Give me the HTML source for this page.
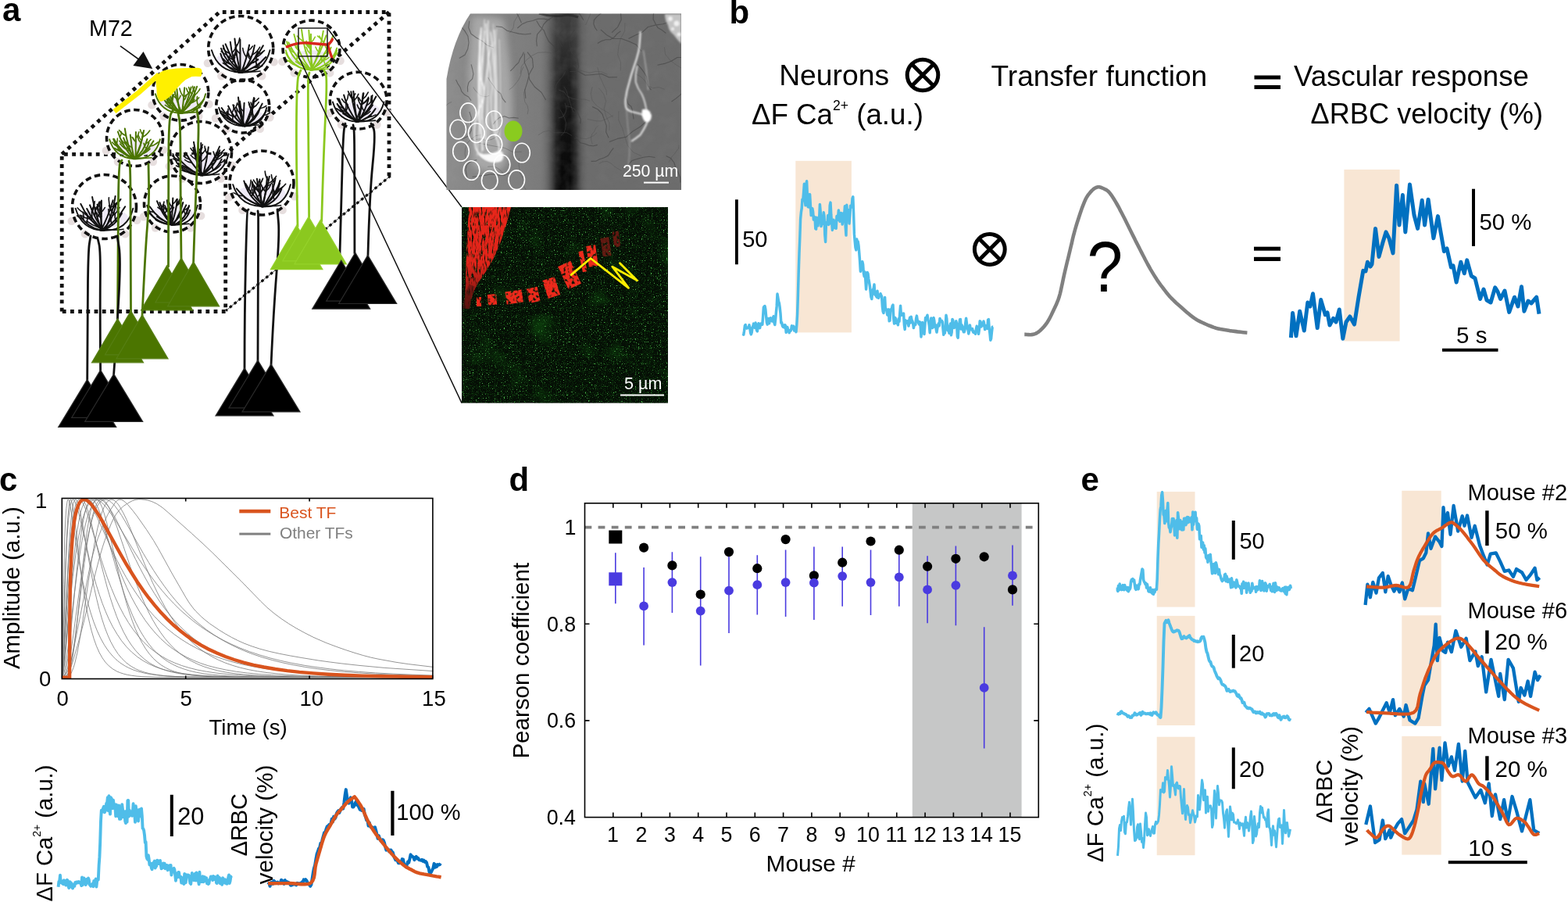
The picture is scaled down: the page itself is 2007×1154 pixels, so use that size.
<!DOCTYPE html>
<html><head><meta charset="utf-8"><title>Figure</title><style>
html,body{margin:0;padding:0;background:#fff;overflow:hidden}
svg{display:block}
text{font-family:"Liberation Sans",Arial,Helvetica,sans-serif;fill:#000}
.pl{font-weight:bold;font-size:40px}
.t38{font-size:38px}.t29{font-size:29px}.t28{font-size:28px}.t27{font-size:27px}.t26{font-size:26px}.t25{font-size:25px}
.t21{font-size:21px}.t19{font-size:19px}.t88{font-size:91px}
</style></head>
<body><svg width="2007" height="1154" viewBox="0 0 2007 1154">
<rect width="2007" height="1154" fill="#fff"/>
<text x="2.9" y="27" font-size="42.00" font-weight="bold">a</text>
<path d="M79.2 398.5 V197.3 H288.7 V398.5 Z" fill="none" stroke="#111" stroke-width="4.8" stroke-dasharray="4.8 5.4"/>
<path d="M79.2 197.3 L281 15.5 H498 V225" fill="none" stroke="#111" stroke-width="4.8" stroke-dasharray="4.8 5.4"/>
<path d="M498 15.5 L288.7 197.3" fill="none" stroke="#111" stroke-width="4.8" stroke-dasharray="4.8 5.4"/>
<path d="M499.8 225 L289.2 397.4" fill="none" stroke="#111" stroke-width="3.2" stroke-dasharray="3.5 4"/>
<path d="M499.8 225 L289.2 397.4" fill="none" stroke="#111" stroke-width="0.8"/>
<g fill="#e6dede"><circle cx="265.9" cy="80.7" r="5.2"/><circle cx="350.5" cy="79.4" r="5.2"/><circle cx="283.3" cy="97.3" r="5.2"/><circle cx="335.2" cy="97.3" r="5.2"/><circle cx="361.4" cy="78.9" r="5.2"/><circle cx="435.6" cy="77.8" r="5.2"/><circle cx="376.7" cy="93.4" r="5.2"/><circle cx="422.2" cy="93.4" r="5.2"/><circle cx="194.5" cy="134.4" r="5.2"/><circle cx="267.5" cy="133.3" r="5.2"/><circle cx="209.5" cy="148.7" r="5.2"/><circle cx="254.3" cy="148.7" r="5.2"/><circle cx="276" cy="151.3" r="5.2"/><circle cx="345.4" cy="150.3" r="5.2"/><circle cx="290.3" cy="164.9" r="5.2"/><circle cx="332.8" cy="164.9" r="5.2"/><circle cx="135.8" cy="192.7" r="5.2"/><circle cx="209.2" cy="191.6" r="5.2"/><circle cx="150.9" cy="207.1" r="5.2"/><circle cx="195.9" cy="207.1" r="5.2"/><circle cx="216.7" cy="212.8" r="5.2"/><circle cx="297.3" cy="211.6" r="5.2"/><circle cx="233.3" cy="228.6" r="5.2"/><circle cx="282.7" cy="228.6" r="5.2"/><circle cx="421.6" cy="145" r="5.2"/><circle cx="495.8" cy="143.9" r="5.2"/><circle cx="436.9" cy="159.5" r="5.2"/><circle cx="482.4" cy="159.5" r="5.2"/><circle cx="293.2" cy="252.4" r="5.2"/><circle cx="376.8" cy="251.2" r="5.2"/><circle cx="310.4" cy="268.9" r="5.2"/><circle cx="361.6" cy="268.9" r="5.2"/><circle cx="91.7" cy="282.9" r="5.2"/><circle cx="175.3" cy="281.7" r="5.2"/><circle cx="108.9" cy="299.4" r="5.2"/><circle cx="160.2" cy="299.4" r="5.2"/><circle cx="183.8" cy="277.2" r="5.2"/><circle cx="257.2" cy="276.1" r="5.2"/><circle cx="198.9" cy="291.6" r="5.2"/><circle cx="243.9" cy="291.6" r="5.2"/></g>
<g fill="#eee9f6"><ellipse cx="308.2" cy="76.5" rx="31.1" ry="12.4"/><ellipse cx="398.5" cy="75.2" rx="27.3" ry="10.9"/><ellipse cx="231" cy="130.8" rx="26.8" ry="10.7"/><ellipse cx="310.7" cy="147.9" rx="25.5" ry="10.2"/><ellipse cx="172.5" cy="189.1" rx="27" ry="10.8"/><ellipse cx="257" cy="208.8" rx="29.6" ry="11.8"/><ellipse cx="458.7" cy="141.3" rx="27.3" ry="10.9"/><ellipse cx="335" cy="248.3" rx="30.8" ry="12.3"/><ellipse cx="133.5" cy="278.9" rx="30.8" ry="12.3"/><ellipse cx="220.5" cy="273.6" rx="27" ry="10.8"/></g>
<g fill="none" stroke="#111" stroke-linecap="round"><path d="M307.9 92.7 Q279.1 91.9 270.8 64.1" stroke-width="1.9"/><path d="M307.9 92.7 Q338.1 94.4 345.6 64.1" stroke-width="1.9"/><path d="M285.4 80.7 Q304.1 95.2 333.1 91" stroke-width="1.6"/><path d="M306.1 92.7 Q287.3 87.5 282.3 68.6" stroke-width="2"/><path d="M289 82.1 Q293.5 76.8 294.6 69.2" stroke-width="1.6"/><path d="M307.6 92.7 Q289.8 81.7 283 62" stroke-width="2"/><path d="M294.8 82.2 Q289.4 80.2 285.8 75.2" stroke-width="1.6"/><path d="M310.2 92.7 Q291.6 79.9 285.5 58.1" stroke-width="2"/><path d="M290.1 69.9 Q286.2 68.9 283.2 65.7" stroke-width="1.6"/><path d="M296.8 80.4 Q299.7 77.5 300.6 73.2" stroke-width="1.6"/><path d="M308.8 92.7 Q296.3 75.9 288.6 56.4" stroke-width="2"/><path d="M298.2 76.5 Q294.6 75.3 291.9 72.1" stroke-width="1.6"/><path d="M294 68.6 Q289 66.7 285.6 62.1" stroke-width="1.6"/><path d="M305.8 92.7 Q296.9 74.2 294.8 53.7" stroke-width="2"/><path d="M298.3 72.6 Q302 67.6 302.4 61" stroke-width="1.6"/><path d="M298.7 73.9 Q301.5 71.2 302.5 67" stroke-width="1.6"/><path d="M297 67.5 Q301.7 63.3 303.4 56.8" stroke-width="1.6"/><path d="M307.4 92.7 Q302.3 71.4 300.4 49.5" stroke-width="2"/><path d="M301.6 60.6 Q305.8 55.6 306.7 48.6" stroke-width="1.6"/><path d="M307.6 92.7 Q307.4 71.7 307.4 50.7" stroke-width="2"/><path d="M307.4 68.8 Q303.3 65.9 301.2 60.9" stroke-width="1.6"/><path d="M308.8 92.7 Q315.8 75.7 319.1 57.5" stroke-width="2"/><path d="M315.5 73.3 Q311.5 68.4 310.7 61.5" stroke-width="1.6"/><path d="M317.6 64.9 Q321.1 63 323.3 59.2" stroke-width="1.6"/><path d="M310.1 92.7 Q322.8 77.5 325.9 57.9" stroke-width="2"/><path d="M320.5 76.2 Q317.9 73.5 317.1 69.5" stroke-width="1.6"/><path d="M322.9 70.1 Q329 66.8 332.6 60.3" stroke-width="1.6"/><path d="M321.3 74.3 Q318.6 71.6 317.7 67.6" stroke-width="1.6"/><path d="M306.2 92.7 Q326.1 79.6 336.9 58.3" stroke-width="2"/><path d="M330.5 69 Q335 68.1 338.5 64.6" stroke-width="1.6"/><path d="M327.6 73 Q332.9 71.1 336.5 66.2" stroke-width="1.6"/><path d="M307.9 92.7 Q323.5 83.2 330.1 66.1" stroke-width="2"/><path d="M321.9 80.5 Q326.6 79.9 330.5 76.5" stroke-width="1.6"/><path d="M321.4 81.1 Q326.4 79.8 330.2 75.5" stroke-width="1.6"/><path d="M308.9 92.7 Q327.8 88 340.3 73" stroke-width="2"/><path d="M328.5 83.9 Q326.8 78.5 328.5 72.5" stroke-width="1.6"/><path d="M325 86.2 Q328.8 85.8 332.2 83.2" stroke-width="1.6"/><path d="M324.6 86.4 Q330.2 87 335.8 84.3" stroke-width="1.6"/></g>
<g fill="none" stroke="#8bc81f" stroke-linecap="round"><path d="M398.3 89.4 Q373 88.7 365.7 64.3" stroke-width="1.9"/><path d="M398.3 89.4 Q424.7 90.9 431.3 64.3" stroke-width="1.9"/><path d="M378.5 78.9 Q394.9 91.6 420.3 88" stroke-width="1.6"/><path d="M397.9 89.4 Q374.8 87.7 366.2 68" stroke-width="2"/><path d="M379.4 83.8 Q374.7 83 370.9 79.5" stroke-width="1.6"/><path d="M373.1 78.6 Q368.2 78.8 363.8 76.1" stroke-width="1.6"/><path d="M373.6 79.2 Q368.7 78.6 364.5 75.2" stroke-width="1.6"/><path d="M397.4 89.4 Q372.9 78.2 367.1 53.2" stroke-width="2"/><path d="M379.3 76.7 Q381.7 73.5 381.9 69.2" stroke-width="1.6"/><path d="M379.2 76.6 Q381.6 72.5 381.5 67.4" stroke-width="1.6"/><path d="M398.3 89.4 Q379.1 75.7 369.3 54.4" stroke-width="2"/><path d="M376.6 67.4 Q373.1 66.1 370.7 62.8" stroke-width="1.6"/><path d="M374 63.3 Q368 61.2 363.7 55.8" stroke-width="1.6"/><path d="M397.6 89.4 Q381.6 69.2 376.3 43.9" stroke-width="2"/><path d="M381.5 61.4 Q378.3 59.9 376.3 56.6" stroke-width="1.6"/><path d="M382.9 64.9 Q380 63.4 378.2 60.2" stroke-width="1.6"/><path d="M400.3 89.4 Q388.7 64.9 386 37.9" stroke-width="2"/><path d="M388.2 53 Q383 49.7 380.2 46.1" stroke-width="1.6"/><path d="M400.2 89.4 Q396.5 64.2 395.3 38.7" stroke-width="2"/><path d="M396.6 59.1 Q393.5 56.6 392.1 52.4" stroke-width="1.6"/><path d="M396.8 60.4 Q392.9 58.1 390.7 53.8" stroke-width="1.6"/><path d="M397.6 68.9 Q393.7 65.7 392 60.4" stroke-width="1.6"/><path d="M398.3 89.4 Q398.1 66.6 398 43.7" stroke-width="2"/><path d="M398 54.1 Q401.5 51.6 403.3 47.3" stroke-width="1.6"/><path d="M398.1 63.3 Q392.9 59.7 390.3 53.5" stroke-width="1.6"/><path d="M398.7 89.4 Q410.3 65.8 413.8 39.7" stroke-width="2"/><path d="M407.9 66.3 Q405.1 64 403.9 60.1" stroke-width="1.6"/><path d="M412 50.5 Q408.1 47.3 406.5 46.1" stroke-width="1.6"/><path d="M397.6 89.4 Q410.1 68.6 417.5 45.4" stroke-width="2"/><path d="M414.4 54.5 Q410.1 50.1 408.8 46.1" stroke-width="1.6"/><path d="M399.7 89.4 Q417.6 69.8 426.5 45.4" stroke-width="2"/><path d="M418.4 63.3 Q416.1 60 415.9 55.6" stroke-width="1.6"/><path d="M414.9 69.3 Q418 68.1 420.1 65.2" stroke-width="1.6"/><path d="M396.5 89.4 Q416.1 80.7 423.7 60.7" stroke-width="2"/><path d="M413.7 77.2 Q417.8 76.5 421.1 73.5" stroke-width="1.6"/><path d="M412.1 78.8 Q410.4 75.5 410.7 71.4" stroke-width="1.6"/><path d="M413.1 77.9 Q411.1 75.1 410.9 71.4" stroke-width="1.6"/><path d="M398.5 89.4 Q424 84.9 431.2 61.6" stroke-width="2"/><path d="M416.2 82.6 Q413.6 77.1 414.6 70.6" stroke-width="1.6"/><path d="M426.9 71.4 Q430.1 70.5 432.5 67.8" stroke-width="1.6"/></g>
<g fill="none" stroke="#4b7500" stroke-linecap="round"><path d="M231.2 144.8 Q205.9 144.1 198.8 120.1" stroke-width="1.9"/><path d="M231.2 144.8 Q256.8 146.2 263.2 120.1" stroke-width="1.9"/><path d="M211.3 134.4 Q227.4 146.9 252.5 143.4" stroke-width="1.6"/><path d="M232.9 144.8 Q215.6 140 208.4 123.6" stroke-width="2"/><path d="M220.4 139 Q221.8 135.7 221.2 132" stroke-width="1.6"/><path d="M213.3 132.1 Q215.1 128.6 214.7 124.5" stroke-width="1.6"/><path d="M216.7 135.8 Q220 131.4 220.4 125.4" stroke-width="1.6"/><path d="M230.3 144.8 Q215.2 134.7 208.9 117.6" stroke-width="2"/><path d="M216.9 132.3 Q220.4 127.7 220.8 121.6" stroke-width="1.6"/><path d="M217.1 132.5 Q213.9 131.8 211.4 129.2" stroke-width="1.6"/><path d="M218.2 133.9 Q220.9 130.4 221.4 125.6" stroke-width="1.6"/><path d="M232.1 144.8 Q217 132.5 210.8 114.1" stroke-width="2"/><path d="M219.2 130.9 Q221.4 127.5 221.4 123.2" stroke-width="1.6"/><path d="M218.6 130 Q221.9 126.2 222.6 120.8" stroke-width="1.6"/><path d="M229.9 144.8 Q218.8 131.1 215.1 113.8" stroke-width="2"/><path d="M221.8 132.4 Q217.5 130.7 214.7 126.6" stroke-width="1.6"/><path d="M232.5 144.8 Q225.5 128.6 222.5 111.2" stroke-width="2"/><path d="M225.8 126 Q221.6 123.4 219.3 118.5" stroke-width="1.6"/><path d="M230.1 144.8 Q227.4 129.5 226.4 114" stroke-width="2"/><path d="M227.7 128.1 Q230.1 125.9 231.1 122.4" stroke-width="1.6"/><path d="M233 144.8 Q235.1 128.6 236.2 112.3" stroke-width="2"/><path d="M234.8 128.9 Q237.5 126.5 238.5 122.7" stroke-width="1.6"/><path d="M235.3 123.7 Q240.1 121.5 243.2 116.7" stroke-width="1.6"/><path d="M235.3 123.9 Q231.1 119.5 229.9 113.1" stroke-width="1.6"/><path d="M232.7 144.8 Q240.6 128.9 244.7 111.6" stroke-width="2"/><path d="M242.4 120.2 Q239.5 117.3 238.6 113" stroke-width="1.6"/><path d="M230 144.8 Q243.1 130.1 249 111.3" stroke-width="2"/><path d="M245.6 120.3 Q242.4 116.7 241.6 111.5" stroke-width="1.6"/><path d="M232.4 144.8 Q246.2 130 252.1 110.7" stroke-width="2"/><path d="M249.4 118.3 Q246.9 114.9 246.6 110.3" stroke-width="1.6"/><path d="M247.4 122.8 Q252.9 119.7 256 113.6" stroke-width="1.6"/><path d="M230.1 144.8 Q244.6 136.5 249.8 120.6" stroke-width="2"/><path d="M244.4 131.7 Q250.3 129.9 254.6 124.9" stroke-width="1.6"/><path d="M244.1 132.2 Q247.1 130.5 248.9 127.2" stroke-width="1.6"/><path d="M229.8 144.8 Q249.4 143.2 260.9 127.2" stroke-width="2"/><path d="M246.5 140.1 Q250.7 140.2 254.7 137.8" stroke-width="1.6"/><path d="M253.6 135.2 Q251.4 129.8 252.5 123.6" stroke-width="1.6"/><path d="M245.4 140.6 Q251.4 140.5 256.8 136.9" stroke-width="1.6"/></g>
<g fill="none" stroke="#111" stroke-linecap="round"><path d="M312.3 161.2 Q286.9 160.5 280.1 137.7" stroke-width="1.9"/><path d="M312.3 161.2 Q335.2 162.5 341.3 137.7" stroke-width="1.9"/><path d="M292 151.3 Q307.3 163.2 331.1 159.8" stroke-width="1.6"/><path d="M313.1 161.2 Q295.4 157.2 282.5 144.5" stroke-width="2"/><path d="M297.7 155.6 Q298.8 150 296.5 144.3" stroke-width="1.6"/><path d="M291.1 151.6 Q291.7 147.5 289.9 143.5" stroke-width="1.6"/><path d="M291.5 151.9 Q292.6 147.2 290.8 142.2" stroke-width="1.6"/><path d="M310.3 161.2 Q293.1 154.1 283.6 138.1" stroke-width="2"/><path d="M288.8 145.4 Q285.6 144.7 283.1 142.1" stroke-width="1.6"/><path d="M290.7 147.7 Q292.6 143.9 292 139.3" stroke-width="1.6"/><path d="M291.5 148.5 Q288.2 148.1 285.3 145.8" stroke-width="1.6"/><path d="M312.8 161.2 Q298.8 151.4 292.1 135.6" stroke-width="2"/><path d="M296.9 144.7 Q299.7 140.2 299.6 134.5" stroke-width="1.6"/><path d="M301 150.4 Q303.5 146 303.1 140.5" stroke-width="1.6"/><path d="M300.3 149.5 Q294.8 148.3 290.5 144" stroke-width="1.6"/><path d="M312.3 161.2 Q302.9 148.9 298.3 134.2" stroke-width="2"/><path d="M300.2 139.6 Q303 136.4 303.7 131.9" stroke-width="1.6"/><path d="M312.6 161.2 Q308.5 145.6 307 129.5" stroke-width="2"/><path d="M308 138.6 Q305.6 136.5 304.7 133.2" stroke-width="1.6"/><path d="M310.7 161.2 Q306.3 143.1 305 124.6" stroke-width="2"/><path d="M307.5 145.6 Q303.9 142.4 302.4 137.3" stroke-width="1.6"/><path d="M310.7 161.2 Q312 146.5 312.6 131.8" stroke-width="2"/><path d="M312 142.6 Q308.3 140.2 306.4 135.7" stroke-width="1.6"/><path d="M313 161.2 Q321.4 144 325 125.1" stroke-width="2"/><path d="M321.5 139.3 Q319.5 136.5 319.4 132.7" stroke-width="1.6"/><path d="M323.7 131.3 Q328 129.7 331.1 125.7" stroke-width="1.6"/><path d="M321 141.1 Q323.7 139.3 325 136" stroke-width="1.6"/><path d="M314.1 161.2 Q323.7 144.9 325.7 126.1" stroke-width="2"/><path d="M323.9 136.9 Q321.7 134.6 321 131.1" stroke-width="1.6"/><path d="M323.6 138 Q328.4 135.6 331.3 130.6" stroke-width="1.6"/><path d="M322.7 141.3 Q319 136.8 318.3 130.6" stroke-width="1.6"/><path d="M314.3 161.2 Q328.1 149.2 335.7 132.6" stroke-width="2"/><path d="M325.2 149.8 Q322.7 145.3 323.1 139.7" stroke-width="1.6"/><path d="M332.6 138.8 Q337.1 138.4 340.9 135.4" stroke-width="1.6"/><path d="M312.8 161.2 Q328.2 154.2 333 138.1" stroke-width="2"/><path d="M324.4 153.2 Q322.2 149.5 322.4 144.9" stroke-width="1.6"/><path d="M313.2 161.2 Q332.2 158.7 340.8 141.7" stroke-width="2"/><path d="M337 147.8 Q341.7 147.4 345.7 144.2" stroke-width="1.6"/></g>
<g fill="none" stroke="#4b7500" stroke-linecap="round"><path d="M171.5 203.1 Q147.3 202.4 140.1 178.3" stroke-width="1.9"/><path d="M171.5 203.1 Q198.4 204.6 204.9 178.3" stroke-width="1.9"/><path d="M152.7 192.7 Q168.9 205.3 194.1 201.7" stroke-width="1.6"/><path d="M171.4 203.1 Q152.2 196.9 145.1 177.9" stroke-width="2"/><path d="M149.5 186.8 Q146 185.4 143.6 182" stroke-width="1.6"/><path d="M157 195.3 Q153.4 194.1 150.9 190.9" stroke-width="1.6"/><path d="M148.5 185.1 Q150.6 181.5 150.4 177" stroke-width="1.6"/><path d="M170.5 203.1 Q154.2 194.4 145.8 177.8" stroke-width="2"/><path d="M157.6 193.9 Q151.7 193.4 146.5 189.5" stroke-width="1.6"/><path d="M173.6 203.1 Q163 191.5 158.1 176.4" stroke-width="2"/><path d="M161.4 184.7 Q157 182.3 154.5 177.5" stroke-width="1.6"/><path d="M166 193.2 Q160.1 191.4 155.7 186.2" stroke-width="1.6"/><path d="M164.2 190.2 Q158.3 188.9 153.7 184.2" stroke-width="1.6"/><path d="M171.1 203.1 Q156.9 188.2 150.9 168.5" stroke-width="2"/><path d="M157.9 185.1 Q154.7 183.5 152.7 180.1" stroke-width="1.6"/><path d="M153.3 175.4 Q155.3 172.6 155.4 168.8" stroke-width="1.6"/><path d="M171 203.1 Q162.4 184.6 159.8 164.4" stroke-width="2"/><path d="M161.4 173.8 Q156 171.6 152.5 166.5" stroke-width="1.6"/><path d="M171.7 203.1 Q168.1 188.1 166.8 172.6" stroke-width="2"/><path d="M168.8 188.9 Q164.1 186.6 161.2 181.7" stroke-width="1.6"/><path d="M173.5 203.1 Q173.8 186.1 173.9 169.1" stroke-width="2"/><path d="M173.8 180.6 Q170.7 178.8 168.9 175.4" stroke-width="1.6"/><path d="M173.9 176.6 Q177 173.5 177.9 168.8" stroke-width="1.6"/><path d="M173.8 181.7 Q171.3 179.6 170.3 176.2" stroke-width="1.6"/><path d="M173 203.1 Q181.1 187.2 183.2 169.4" stroke-width="2"/><path d="M180.6 183.3 Q177.2 180 176.1 175" stroke-width="1.6"/><path d="M172 203.1 Q181.2 186.1 184.1 166.9" stroke-width="2"/><path d="M183.1 172.8 Q180.3 170 179.5 165.8" stroke-width="1.6"/><path d="M181.4 179.8 Q178.3 177.2 177.1 173.1" stroke-width="1.6"/><path d="M182.6 175.1 Q188.1 172.6 191.7 167" stroke-width="1.6"/><path d="M172 203.1 Q184.7 193.6 188.4 178" stroke-width="2"/><path d="M186.6 183.8 Q190.6 182.2 193.2 178.3" stroke-width="1.6"/><path d="M173 203.1 Q188.3 195.3 196.5 180.3" stroke-width="2"/><path d="M192.2 187 Q197.9 186 202.4 181.8" stroke-width="1.6"/><path d="M169.7 203.1 Q185.7 198.6 190.5 182.7" stroke-width="2"/><path d="M181.7 196.8 Q187.6 195.3 192 190.4" stroke-width="1.6"/><path d="M187.2 190.2 Q184.7 187.4 184 183.4" stroke-width="1.6"/><path d="M186 192.1 Q189.2 191.2 191.5 188.5" stroke-width="1.6"/></g>
<g fill="none" stroke="#111" stroke-linecap="round"><path d="M258.6 224.2 Q229.3 223.4 221.4 197" stroke-width="1.9"/><path d="M258.6 224.2 Q285.4 225.8 292.6 197" stroke-width="1.9"/><path d="M235.3 212.8 Q253.1 226.6 280.7 222.7" stroke-width="1.6"/><path d="M256.7 224.2 Q239.9 221.5 228.3 208.9" stroke-width="2"/><path d="M242.8 219.8 Q237.6 220.3 232.6 217.7" stroke-width="1.6"/><path d="M233.9 214.2 Q229.5 214.4 225.5 212" stroke-width="1.6"/><path d="M258.4 224.2 Q237.6 216.4 225.2 198" stroke-width="2"/><path d="M230.7 205.1 Q224.9 203.8 220.4 199.1" stroke-width="1.6"/><path d="M231.7 206.2 Q226.3 206.2 221.4 203.1" stroke-width="1.6"/><path d="M241.2 214.9 Q237 214.4 233.3 211.5" stroke-width="1.6"/><path d="M259.4 224.2 Q246.2 211.6 237.7 195.3" stroke-width="2"/><path d="M242.7 204.1 Q238.5 203 235.1 199.6" stroke-width="1.6"/><path d="M245.6 208.3 Q240.7 207.8 236.6 204.5" stroke-width="1.6"/><path d="M259.5 224.2 Q250.7 207.4 247.3 188.7" stroke-width="2"/><path d="M251.1 204.1 Q247 202.4 244.1 198.4" stroke-width="1.6"/><path d="M252.3 207.5 Q256 202.7 256.6 196.2" stroke-width="1.6"/><path d="M252.3 207.5 Q256.5 203.7 258.1 197.9" stroke-width="1.6"/><path d="M257 224.2 Q251.4 203.2 248 181.8" stroke-width="2"/><path d="M251.2 199.4 Q256.6 195.2 259 188.2" stroke-width="1.6"/><path d="M250.7 196.8 Q246.4 194.4 244 189.7" stroke-width="1.6"/><path d="M251.2 199.6 Q254 195.4 254 189.9" stroke-width="1.6"/><path d="M256.6 224.2 Q254.5 203.5 253.7 182.7" stroke-width="2"/><path d="M254.2 193.1 Q257.8 189.9 259.3 184.9" stroke-width="1.6"/><path d="M257.4 224.2 Q257.3 203.6 257.3 183" stroke-width="2"/><path d="M257.4 205.5 Q253.6 202 252.3 196.5" stroke-width="1.6"/><path d="M257.4 207 Q262 204.3 264.7 199" stroke-width="1.6"/><path d="M257.3 197.6 Q261.2 195.2 263.3 190.9" stroke-width="1.6"/><path d="M259.9 224.2 Q264.7 206.5 266.8 188.3" stroke-width="2"/><path d="M265.6 197.3 Q262.3 192.9 262 187" stroke-width="1.6"/><path d="M259.7 224.2 Q273 207.4 281 187.5" stroke-width="2"/><path d="M275.8 199 Q282.4 197 287.2 191.3" stroke-width="1.6"/><path d="M257.5 224.2 Q271 211.1 279 194.1" stroke-width="2"/><path d="M272.1 206.5 Q277.4 204.4 281 199.3" stroke-width="1.6"/><path d="M268.7 211.4 Q273 210.1 276.2 206.3" stroke-width="1.6"/><path d="M258.1 224.2 Q276.4 213.1 281.3 192.3" stroke-width="2"/><path d="M278.5 200.9 Q282.4 199.1 284.9 195.2" stroke-width="1.6"/><path d="M277.6 202.9 Q274.1 199.3 273.1 194" stroke-width="1.6"/><path d="M276.8 204.5 Q282.3 203 286.3 198.4" stroke-width="1.6"/><path d="M258.7 224.2 Q276.4 220.4 283.7 203.7" stroke-width="2"/><path d="M272.7 218 Q278.5 215.9 282.5 210.6" stroke-width="1.6"/><path d="M280.8 209.3 Q285 207.8 287.9 204" stroke-width="1.6"/><path d="M272.9 217.9 Q271 213.6 271.8 208.5" stroke-width="1.6"/></g>
<g fill="none" stroke="#111" stroke-linecap="round"><path d="M457.2 155.5 Q433.2 154.8 425.9 130.4" stroke-width="1.9"/><path d="M457.2 155.5 Q484.9 157 491.5 130.4" stroke-width="1.9"/><path d="M438.7 145 Q455.1 157.7 480.5 154.1" stroke-width="1.6"/><path d="M459.2 155.5 Q440.6 150 431.6 132.8" stroke-width="2"/><path d="M442.5 146.7 Q443.8 143.6 443.2 140.1" stroke-width="1.6"/><path d="M439.4 143.8 Q435 142.7 431.7 139.2" stroke-width="1.6"/><path d="M437.8 142 Q433.5 141.5 429.8 138.5" stroke-width="1.6"/><path d="M456.1 155.5 Q439.7 144.9 433.8 126.2" stroke-width="2"/><path d="M442.2 142.8 Q438.6 142 435.8 139.1" stroke-width="1.6"/><path d="M439.5 138.7 Q435 137.4 431.7 133.4" stroke-width="1.6"/><path d="M442.5 143.1 Q445 139.1 445 133.9" stroke-width="1.6"/><path d="M456.3 155.5 Q440.9 143.4 431.7 126" stroke-width="2"/><path d="M441.9 141.3 Q443.8 136.4 442.7 130.7" stroke-width="1.6"/><path d="M456.8 155.5 Q445 140.2 440.1 121.4" stroke-width="2"/><path d="M442.9 130.3 Q445.6 126.3 445.7 121" stroke-width="1.6"/><path d="M443.9 133 Q439.9 130.9 437.6 126.6" stroke-width="1.6"/><path d="M458 155.5 Q451.7 136.8 449.3 117.2" stroke-width="2"/><path d="M450.2 123.9 Q446.9 121.2 445.6 116.8" stroke-width="1.6"/><path d="M451.3 130.2 Q456.3 126.6 458.8 120.3" stroke-width="1.6"/><path d="M450.5 125.7 Q453.4 123.5 454.7 119.7" stroke-width="1.6"/><path d="M457.1 155.5 Q453.7 136.3 452.3 116.8" stroke-width="2"/><path d="M453.3 128.2 Q448.7 124.9 446.4 119.1" stroke-width="1.6"/><path d="M458.8 155.5 Q463.3 137.8 464.7 119.5" stroke-width="2"/><path d="M463.2 132.8 Q468.6 130 471.7 124.3" stroke-width="1.6"/><path d="M463.6 130.3 Q460.7 128.4 459.3 125.1" stroke-width="1.6"/><path d="M464 127 Q468.7 123.8 471.2 118.1" stroke-width="1.6"/><path d="M455.3 155.5 Q463.3 138.2 465.4 119.3" stroke-width="2"/><path d="M462.9 133.7 Q468 131.6 471.4 126.6" stroke-width="1.6"/><path d="M460.9 140.7 Q458.2 138.1 457.2 134" stroke-width="1.6"/><path d="M462.5 135 Q458.8 130.6 458 124.4" stroke-width="1.6"/><path d="M458.5 155.5 Q467.7 141.9 471.9 125.9" stroke-width="2"/><path d="M468.9 135.4 Q473.3 133 476 128.1" stroke-width="1.6"/><path d="M466.1 142 Q463.8 139.6 463 136" stroke-width="1.6"/><path d="M456.2 155.5 Q472.1 142.2 481.3 123.5" stroke-width="2"/><path d="M477.2 131 Q475.6 126.6 476.7 121.7" stroke-width="1.6"/><path d="M475.7 133.4 Q473.9 128.4 475.3 122.8" stroke-width="1.6"/><path d="M476.6 132.1 Q475.4 128.9 476.3 125.3" stroke-width="1.6"/><path d="M455 155.5 Q468.7 147.8 476.9 134.4" stroke-width="2"/><path d="M465.7 147.8 Q470.4 146.5 473.9 142.5" stroke-width="1.6"/><path d="M456.4 155.5 Q472.4 153 480.6 139" stroke-width="2"/><path d="M471.3 149.6 Q476.3 149.7 480.9 146.9" stroke-width="1.6"/><path d="M468.8 151.2 Q472.3 150.4 475 147.6" stroke-width="1.6"/></g>
<g fill="none" stroke="#111" stroke-linecap="round"><path d="M336.5 264.3 Q306.3 263.5 298.1 236.1" stroke-width="1.9"/><path d="M336.5 264.3 Q364.5 266 371.9 236.1" stroke-width="1.9"/><path d="M312.4 252.4 Q330.9 266.8 359.6 262.7" stroke-width="1.6"/><path d="M335.2 264.3 Q315.7 257.4 302.8 241.3" stroke-width="2"/><path d="M311.9 250.8 Q305.1 250.7 299.1 246.6" stroke-width="1.6"/><path d="M336.1 264.3 Q317.8 252.5 312.3 231.5" stroke-width="2"/><path d="M317.2 244 Q321 238.1 321.1 230.4" stroke-width="1.6"/><path d="M319.8 248.5 Q323.3 242.3 322.7 234.6" stroke-width="1.6"/><path d="M322 251.6 Q324.2 247.7 323.8 242.8" stroke-width="1.6"/><path d="M338.9 264.3 Q323.7 252.1 314.3 235" stroke-width="2"/><path d="M323.9 249.4 Q326.4 244 325.5 237.5" stroke-width="1.6"/><path d="M337.3 264.3 Q326 250.2 322.8 232.4" stroke-width="2"/><path d="M325.6 243.2 Q330.1 238.6 331.4 231.7" stroke-width="1.6"/><path d="M329.3 252 Q334.6 247.2 336.6 239.7" stroke-width="1.6"/><path d="M325.9 244 Q328.7 240.7 329.4 236.1" stroke-width="1.6"/><path d="M336.7 264.3 Q330.7 247 328.9 228.7" stroke-width="2"/><path d="M331 243.2 Q326.3 240.5 323.6 235.3" stroke-width="1.6"/><path d="M330.2 238.5 Q334.7 234.5 336.5 228.3" stroke-width="1.6"/><path d="M335.4 264.3 Q332.9 246.9 332.4 229.4" stroke-width="2"/><path d="M333.5 247.5 Q328.4 244 325.7 237.8" stroke-width="1.6"/><path d="M333.3 245.6 Q338.1 242.4 340.7 236.7" stroke-width="1.6"/><path d="M332.9 239.3 Q327.5 236.2 324.4 230.2" stroke-width="1.6"/><path d="M336.4 264.3 Q340.7 245.6 342 226.3" stroke-width="2"/><path d="M340 245.1 Q335.6 241.3 333.9 235.3" stroke-width="1.6"/><path d="M340.1 244.7 Q344.3 241.9 346.4 236.8" stroke-width="1.6"/><path d="M335.1 264.3 Q341.2 245.3 344.8 225.7" stroke-width="2"/><path d="M342.3 238 Q347.3 235.9 350.7 231.1" stroke-width="1.6"/><path d="M343.6 231.6 Q339.7 226.3 339.2 219.1" stroke-width="1.6"/><path d="M343 234.9 Q349.4 231.9 353.6 225.4" stroke-width="1.6"/><path d="M336.3 264.3 Q349.3 248.4 352.6 228.2" stroke-width="2"/><path d="M351.4 234.4 Q347.8 229.8 347.4 223.5" stroke-width="1.6"/><path d="M336.8 264.3 Q352.5 250.8 358.5 231" stroke-width="2"/><path d="M349.1 250.7 Q353.9 248.9 357.2 244.3" stroke-width="1.6"/><path d="M351.3 247.3 Q349 243.6 349.1 238.8" stroke-width="1.6"/><path d="M352.3 245.6 Q357.8 244 361.8 239.2" stroke-width="1.6"/><path d="M334.7 264.3 Q353.2 254.8 358.1 234.6" stroke-width="2"/><path d="M352.8 247.8 Q349 242.3 348.8 235" stroke-width="1.6"/><path d="M355.3 242.9 Q361.4 240.8 365.7 235.3" stroke-width="1.6"/><path d="M335.2 264.3 Q353.6 259.7 360.3 241.9" stroke-width="2"/><path d="M351.4 255.8 Q348.6 251 348.9 245" stroke-width="1.6"/></g>
<g fill="none" stroke="#111" stroke-linecap="round"><path d="M131.5 294.8 Q104.8 294 96.6 266.6" stroke-width="1.9"/><path d="M131.5 294.8 Q163 296.5 170.4 266.6" stroke-width="1.9"/><path d="M111 282.9 Q129.4 297.3 158.1 293.2" stroke-width="1.6"/><path d="M129.7 294.8 Q111.9 291 102.5 275.4" stroke-width="2"/><path d="M106.7 281.3 Q107.9 276.4 106.1 271.2" stroke-width="1.6"/><path d="M110.8 285.5 Q112.8 279.6 111.1 273" stroke-width="1.6"/><path d="M105.8 280.2 Q101.8 279.2 98.7 275.9" stroke-width="1.6"/><path d="M132.1 294.8 Q112.7 282.1 103.3 260.8" stroke-width="2"/><path d="M110.2 273.3 Q103.9 271.4 99.2 265.9" stroke-width="1.6"/><path d="M116.8 281.7 Q118.6 276.6 117.3 270.9" stroke-width="1.6"/><path d="M115.4 280.1 Q109.4 279.7 104.2 275.7" stroke-width="1.6"/><path d="M131.9 294.8 Q118.7 283.1 111.2 267" stroke-width="2"/><path d="M117.9 278.9 Q112.7 277.7 108.6 273.6" stroke-width="1.6"/><path d="M132.4 294.8 Q121.4 279.9 115 262.4" stroke-width="2"/><path d="M117.5 268.8 Q120.9 263.9 121.2 257.5" stroke-width="1.6"/><path d="M120.7 275.8 Q122.4 271.8 121.6 267.2" stroke-width="1.6"/><path d="M118.4 270.8 Q120.4 266.3 119.7 261" stroke-width="1.6"/><path d="M130.3 294.8 Q122.1 274 118.1 252.1" stroke-width="2"/><path d="M121.9 268.8 Q126.8 264.7 128.9 257.9" stroke-width="1.6"/><path d="M124.4 277.9 Q127.9 274.6 129.1 269.5" stroke-width="1.6"/><path d="M121.5 267.4 Q125.6 263.8 127.2 258" stroke-width="1.6"/><path d="M130.7 294.8 Q128.6 277.5 127.5 260" stroke-width="2"/><path d="M128.4 272.2 Q132.2 269.9 134.3 265.5" stroke-width="1.6"/><path d="M129 278.8 Q125.4 276.3 123.6 272" stroke-width="1.6"/><path d="M129.5 294.8 Q129.8 275.6 129.9 256.4" stroke-width="2"/><path d="M129.8 276.9 Q125.3 272 124.1 265" stroke-width="1.6"/><path d="M129.8 273.4 Q125.4 268.5 124.3 261.5" stroke-width="1.6"/><path d="M133.5 294.8 Q144.6 274.2 147.6 250.9" stroke-width="2"/><path d="M145.4 263.3 Q151 260.7 154.6 255" stroke-width="1.6"/><path d="M145.7 261.8 Q150.9 259.7 154.4 254.7" stroke-width="1.6"/><path d="M129.1 294.8 Q139 276.4 144.6 256.2" stroke-width="2"/><path d="M141.9 265 Q148 263.2 152.4 258" stroke-width="1.6"/><path d="M141.7 265.6 Q138.7 259.9 139.4 252.9" stroke-width="1.6"/><path d="M140.3 269.8 Q146.3 266.3 149.8 259.5" stroke-width="1.6"/><path d="M130.5 294.8 Q144.3 281.7 148.4 263.1" stroke-width="2"/><path d="M145.4 273 Q141 268.9 139.5 262.7" stroke-width="1.6"/><path d="M142.5 279.2 Q139 274.1 138.8 267.5" stroke-width="1.6"/><path d="M144.2 275.7 Q149.9 272.2 153.1 265.5" stroke-width="1.6"/><path d="M131.3 294.8 Q149.5 283.1 160.2 264.3" stroke-width="2"/><path d="M152.2 276 Q149.7 271.3 150.2 265.5" stroke-width="1.6"/><path d="M131.6 294.8 Q148.1 288.8 155.9 273.1" stroke-width="2"/><path d="M152.1 279.4 Q150.9 275.4 152.2 271" stroke-width="1.6"/><path d="M148.6 283.8 Q146.3 278.6 147.4 272.5" stroke-width="1.6"/><path d="M143.9 288.1 Q141.4 283.7 141.7 278.2" stroke-width="1.6"/></g>
<g fill="none" stroke="#111" stroke-linecap="round"><path d="M221.5 287.6 Q195.3 286.9 188.1 262.8" stroke-width="1.9"/><path d="M221.5 287.6 Q246.4 289.1 252.9 262.8" stroke-width="1.9"/><path d="M200.7 277.2 Q216.9 289.8 242.1 286.2" stroke-width="1.6"/><path d="M221.5 287.6 Q202.2 286.2 190 271.1" stroke-width="2"/><path d="M206.8 284.1 Q202.8 283.9 199.2 281.3" stroke-width="1.6"/><path d="M220.8 287.6 Q202.3 280.7 191.6 264.2" stroke-width="2"/><path d="M197.1 271.4 Q192.9 271.3 189.2 268.9" stroke-width="1.6"/><path d="M219.9 287.6 Q207.5 274.3 201 257.3" stroke-width="2"/><path d="M206.1 268.3 Q208.3 265.5 208.6 261.7" stroke-width="1.6"/><path d="M208.5 272.5 Q210.6 267.4 209.5 261.4" stroke-width="1.6"/><path d="M221.7 287.6 Q210 275.2 204.4 259.1" stroke-width="2"/><path d="M210.9 273.3 Q213.1 270.6 213.5 267" stroke-width="1.6"/><path d="M208.6 269 Q204.8 268.1 201.9 265.2" stroke-width="1.6"/><path d="M207.1 265.8 Q209.6 262.5 210 258.1" stroke-width="1.6"/><path d="M221 287.6 Q216.8 272 215.4 255.9" stroke-width="2"/><path d="M217.7 273.2 Q213.3 270.7 210.8 265.8" stroke-width="1.6"/><path d="M217 268.8 Q219.8 266.4 220.9 262.5" stroke-width="1.6"/><path d="M217.6 272.6 Q221 269.8 222.4 265.2" stroke-width="1.6"/><path d="M219.7 287.6 Q215.5 272.2 213.8 256.3" stroke-width="2"/><path d="M215.8 270.6 Q212.4 267.6 211 262.8" stroke-width="1.6"/><path d="M219.5 287.6 Q220.7 270.5 221.3 253.4" stroke-width="2"/><path d="M220.8 265.3 Q216.9 261.7 215.4 256" stroke-width="1.6"/><path d="M221 261.3 Q224.4 259 226.2 254.9" stroke-width="1.6"/><path d="M219.3 287.6 Q225.5 271.7 226.9 254.7" stroke-width="2"/><path d="M225.9 263.6 Q230.7 260.2 233 254.2" stroke-width="1.6"/><path d="M226.3 260.4 Q229.5 257.6 230.8 253.1" stroke-width="1.6"/><path d="M226.1 262.3 Q230.5 258.4 232.2 252.3" stroke-width="1.6"/><path d="M221.7 287.6 Q230.3 274.3 234.3 258.9" stroke-width="2"/><path d="M228.1 276.1 Q231.9 274.6 234.5 270.9" stroke-width="1.6"/><path d="M219.5 287.6 Q231.9 277.2 238.3 262.4" stroke-width="2"/><path d="M235.2 268.7 Q239.1 267.7 242 264.5" stroke-width="1.6"/><path d="M223.6 287.6 Q238.4 279.5 242 263" stroke-width="2"/><path d="M237.5 274.5 Q235.4 271.3 235.4 267.2" stroke-width="1.6"/><path d="M221.7 287.6 Q238.1 284.8 243.1 269" stroke-width="2"/><path d="M240.7 274.6 Q238.9 271.7 239 267.9" stroke-width="1.6"/></g>
<g fill="none" stroke="#111" stroke-width="3.6" stroke-dasharray="7.5 4.5"><circle cx="308.2" cy="62" r="41.5"/><circle cx="398.5" cy="62.5" r="36.4"/><circle cx="231" cy="118.3" r="35.8"/><circle cx="310.7" cy="136" r="34"/><circle cx="172.5" cy="176.5" r="36"/><circle cx="257" cy="195" r="39.5"/><circle cx="458.7" cy="128.6" r="36.4"/><circle cx="335" cy="234" r="41"/><circle cx="133.5" cy="264.5" r="41"/><circle cx="220.5" cy="261" r="36"/></g>
<g fill="none" stroke="#4b7500" stroke-width="2.8" stroke-linecap="round"><path d="M215.5 341 Q215.5 250 215.8 200 Q216 150 219 145 L222 140"/><path d="M232 331 Q231 250 231 205 Q231 160 229.5 152.5 L228 145"/><path d="M247.6 336 Q250 260 252.5 210 Q255 160 253.5 150 L252 140"/></g>
<g fill="none" stroke="#4b7500" stroke-width="2.8" stroke-linecap="round"><path d="M150.5 409 Q151 300 151.5 255 Q152 210 154 207.5 L156 205"/><path d="M167.5 399 Q167 300 167 257.5 Q167 215 166 210.5 L165 206"/><path d="M182 404 Q186 320 188.5 290 Q191 260 190.5 235 L190 210"/></g>
<g fill="none" stroke="#111" stroke-width="2.8" stroke-linecap="round"><path d="M111.7 486 Q112 400 112.5 360 Q113 320 114.5 311 L116 302"/><path d="M128.6 474 Q128 400 128.3 360 Q128.7 320 126.8 312.5 L125 305"/><path d="M145.6 479 Q150 420 152.3 375 Q154.6 330 152.3 316 L150 302"/></g>
<g fill="none" stroke="#111" stroke-width="2.8" stroke-linecap="round"><path d="M313 472 Q313 400 314.5 335 Q316 270 317 269 L318 268"/><path d="M330 462 Q330 400 330.4 337.5 Q330.8 275 330.4 272.5 L330 270"/><path d="M347 467 Q350 400 353.9 350 Q357.9 300 356.4 284 L355 268"/></g>
<g fill="none" stroke="#8bc81f" stroke-width="2.8" stroke-linecap="round"><path d="M381 290 Q379 200 379.5 150 Q380 100 382.5 95 L385 90"/><path d="M395.6 278 Q395 200 394.5 150 Q394 100 395 96.5 L396 93"/><path d="M411.7 283 Q414 200 416.5 150 Q419 100 417 95 L415 90"/></g>
<g fill="none" stroke="#111" stroke-width="2.8" stroke-linecap="round"><path d="M434.5 341 Q437 250 438.2 210 Q439.4 170 440.7 164 L442 158"/><path d="M453.9 324 Q453.7 250 453.7 210 Q453.7 170 452.9 165 L452 160"/><path d="M470.9 329 Q473 250 477 210 Q481 170 478 164 L475 158"/></g>
<path d="M150.5 407.8 L117.5 463.8 L183.5 463.8 Z" fill="#4b7500" stroke="#577f14" stroke-width="1.2" stroke-linejoin="miter"/><path d="M167.5 397.8 L134.5 453.8 L200.5 453.8 Z" fill="#4b7500" stroke="#577f14" stroke-width="1.2" stroke-linejoin="miter"/><path d="M182 402.8 L149 458.8 L215 458.8 Z" fill="#4b7500" stroke="#577f14" stroke-width="1.2" stroke-linejoin="miter"/>
<path d="M213.6 339.8 L180.6 396.8 L246.6 396.8 Z" fill="#4b7500" stroke="#577f14" stroke-width="1.2" stroke-linejoin="miter"/><path d="M232 330 L199 387 L265 387 Z" fill="#4b7500" stroke="#577f14" stroke-width="1.2" stroke-linejoin="miter"/><path d="M247.6 334.8 L214.6 391.8 L280.6 391.8 Z" fill="#4b7500" stroke="#577f14" stroke-width="1.2" stroke-linejoin="miter"/>
<path d="M111.7 485.4 L74.7 546.4 L148.7 546.4 Z" fill="#000" stroke="#2a2a2a" stroke-width="1.2" stroke-linejoin="miter"/><path d="M128.7 473.4 L91.7 534.4 L165.7 534.4 Z" fill="#000" stroke="#2a2a2a" stroke-width="1.2" stroke-linejoin="miter"/><path d="M145.7 478.4 L108.7 539.4 L182.7 539.4 Z" fill="#000" stroke="#2a2a2a" stroke-width="1.2" stroke-linejoin="miter"/>
<path d="M313 470.9 L276 531.9 L350 531.9 Z" fill="#000" stroke="#2a2a2a" stroke-width="1.2" stroke-linejoin="miter"/><path d="M330 460.9 L293 521.9 L367 521.9 Z" fill="#000" stroke="#2a2a2a" stroke-width="1.2" stroke-linejoin="miter"/><path d="M347 465.9 L310 526.9 L384 526.9 Z" fill="#000" stroke="#2a2a2a" stroke-width="1.2" stroke-linejoin="miter"/>
<path d="M379.7 288.2 L346.4 344.7 L412.9 344.7 Z" fill="#8bc81f" stroke="#95d22a" stroke-width="1.2" stroke-linejoin="miter"/><path d="M395 277.3 L361.8 333.8 L428.2 333.8 Z" fill="#8bc81f" stroke="#95d22a" stroke-width="1.2" stroke-linejoin="miter"/><path d="M410.2 281.4 L376.9 337.9 L443.4 337.9 Z" fill="#8bc81f" stroke="#95d22a" stroke-width="1.2" stroke-linejoin="miter"/>
<path d="M436.7 333.2 L399.7 395.2 L473.7 395.2 Z" fill="#000" stroke="#2a2a2a" stroke-width="1.2" stroke-linejoin="miter"/><path d="M454.7 323.2 L417.7 385.2 L491.7 385.2 Z" fill="#000" stroke="#2a2a2a" stroke-width="1.2" stroke-linejoin="miter"/><path d="M470.7 326.5 L433.7 388.5 L507.7 388.5 Z" fill="#000" stroke="#2a2a2a" stroke-width="1.2" stroke-linejoin="miter"/>
<path d="M149 140.5 L178 118 L201 97.6" fill="none" stroke="#fff000" stroke-width="6.5" stroke-linecap="square"/>
<path d="M199 99 Q204 92 209 90.4 Q220 87.5 233.4 87.3 L252.8 86.7 Q258 86.5 258.5 91 Q258.5 97 256.5 98 Q250 97.5 245.5 98 Q238 101 233 106 Q226 113 221 120 Q214 128 205.5 130 Q200 126 200.5 115 Z" fill="#fff000"/>
<path d="M367.3 59.9 Q380 54 395 55 Q410 56.5 419.3 57.3 Q424 54 425.4 50.3 M419.3 57.3 Q422 66 425.4 75.5" fill="none" stroke="#d9261c" stroke-width="3.4" stroke-linecap="round"/><circle cx="425" cy="76.5" r="2.5" fill="#111"/>
<rect x="382" y="36" width="37" height="36" fill="none" stroke="#111" stroke-width="1.4"/>
<path d="M419 36 L591 265 M382 72 L591 515.6" stroke="#111" stroke-width="1.5"/>
<path d="M154 58.8 L186 82" stroke="#111" stroke-width="1.6"/>
<path d="M195.2 87.9 L170.4 84 L183.5 66.1 Z" fill="#111"/>
<text x="114.1" y="46.1" font-size="28.63">M72</text>
<defs><clipPath id="phc"><path d="M602 17.6 H872 V243 H571.5 V101 Q580 50 602 17.6 Z"/></clipPath><linearGradient id="band" x1="0" x2="1" y1="0" y2="0"><stop offset="0" stop-color="#7a7a7a"/><stop offset="0.2" stop-color="#666"/><stop offset="0.32" stop-color="#3a3a3a"/><stop offset="0.45" stop-color="#181818"/><stop offset="0.62" stop-color="#161616"/><stop offset="0.72" stop-color="#3c3c3c"/><stop offset="0.82" stop-color="#636363"/><stop offset="1" stop-color="#6c6c6c"/></linearGradient><linearGradient id="bandv" x1="0" x2="0" y1="0" y2="1"><stop offset="0" stop-color="#777" stop-opacity="0.55"/><stop offset="0.45" stop-color="#777" stop-opacity="0.15"/><stop offset="1" stop-color="#777" stop-opacity="0"/></linearGradient><linearGradient id="lft" x1="0" x2="1" y1="0" y2="0"><stop offset="0" stop-color="#8e8e8e"/><stop offset="0.85" stop-color="#7a7a7a"/><stop offset="1" stop-color="#6c6c6c"/></linearGradient><linearGradient id="bh" x1="0" x2="1" y1="0" y2="0"><stop offset="0" stop-color="#777" stop-opacity="0"/><stop offset="0.18" stop-color="#555" stop-opacity="0.6"/><stop offset="0.34" stop-color="#1e1e1e"/><stop offset="0.45" stop-color="#070707"/><stop offset="0.62" stop-color="#060606"/><stop offset="0.74" stop-color="#2a2a2a"/><stop offset="0.86" stop-color="#555" stop-opacity="0.6"/><stop offset="1" stop-color="#6c6c6c" stop-opacity="0"/></linearGradient><linearGradient id="bvmg" x1="0" x2="1" y1="0" y2="0"><stop offset="0" stop-color="#000"/><stop offset="0.35" stop-color="#fff"/><stop offset="0.65" stop-color="#fff"/><stop offset="1" stop-color="#000"/></linearGradient><mask id="bvm" maskUnits="userSpaceOnUse" x="690" y="10" width="70" height="240"><rect x="696" y="17" width="54" height="227" fill="url(#bvmg)"/></mask><linearGradient id="bv" x1="0" x2="0" y1="0" y2="1"><stop offset="0" stop-color="#888" stop-opacity="0.45"/><stop offset="0.5" stop-color="#888" stop-opacity="0.12"/><stop offset="1" stop-color="#888" stop-opacity="0"/></linearGradient><filter id="blur1"><feGaussianBlur stdDeviation="0.8"/></filter><filter id="blur3"><feGaussianBlur stdDeviation="4"/></filter><filter id="blur4" x="-50%" y="-10%" width="200%" height="120%"><feGaussianBlur stdDeviation="3.5"/></filter><filter id="blur6" x="-50%" y="-10%" width="200%" height="120%"><feGaussianBlur stdDeviation="6"/></filter><filter id="ptex" x="0" y="0" width="1" height="1" color-interpolation-filters="sRGB"><feTurbulence type="fractalNoise" baseFrequency="0.06" numOctaves="3" seed="5"/><feColorMatrix type="matrix" values="0 0 0 0 0.5  0 0 0 0 0.5  0 0 0 0 0.5  1.2 0 0 0 -0.45"/></filter></defs>
<g clip-path="url(#phc)">
<rect x="571" y="17" width="151" height="227" fill="url(#lft)"/>
<rect x="722" y="17" width="151" height="227" fill="#6c6c6c"/>
<rect x="690" y="17" width="64" height="227" fill="url(#bh)"/>
<rect x="696" y="17" width="54" height="227" fill="url(#bv)" mask="url(#bvm)"/>
<rect x="571" y="17" width="302" height="227" filter="url(#ptex)" opacity="0.35"/>
<path d="M604 22 Q625 18 645 25 Q655 90 656 140 Q655 185 645 215 Q622 225 606 212 Q598 150 600 90 Z" fill="#b0b0b0" opacity="0.8" filter="url(#blur3)"/>
<path d="M703.6 25.7 L696.4 24.1 L688.9 24 L681.9 26.5 L674.6 28 L667.9 31.1 L662.3 36 M758.2 136.4 L765.4 140 L770.9 145.8 L773.6 153.4 L776.3 160.9 L775.7 168.9 L779.1 176.2 M724 34.4 L721 38.2 L717.5 41.6 L715.4 46 L715.4 50.9 L717.1 55.5 L719.6 59.7 M713 64.4 L708.1 58.3 L702.4 53 L698.9 46.1 L696.1 38.8 L690.6 33.2 L686.7 26.5 M859.5 130 L865 126.1 L870.2 121.8 L875 117.1 L881.1 114.2 L887.3 111.5 L893.9 112.5 M735.5 38.1 L729.4 46.7 L728.9 57.2 L731.5 67.4 L738.9 75 L740.8 85.3 L736.8 95.1 M811.1 152.4 L810.2 147 L809.6 141.6 L808 136.4 L803.9 132.8 L802.5 127.6 L800.7 122.4 M723.7 91.2 L720.5 97.5 L715.8 102.7 L711.8 108.6 L711.7 115.6 L709.1 122.2 L708.4 129.2 M746.9 25.6 L743.2 19.6 L738.8 14 L733.6 9.3 L728.6 4.2 L727.2 -2.7 L722.8 -8.2 M667.4 29.2 L663.7 20.9 L659.3 13 L656.2 4.4 L654.9 -4.6 L650.1 -12.4 L649.4 -21.5 M804.5 49.5 L813.3 45.1 L822.2 41.2 L829.4 34.5 L838.9 32.1 L848.6 30.8 L857.8 27.7 M652.8 221.1 L645.2 224.1 L636.9 223.9 L628.8 222.6 L620.8 224.4 L612.7 225.3 L604.5 226.3 M736.6 173.9 L739.3 178.8 L743.1 182.8 L748.6 184 L753.7 186.1 L759.3 186.8 L764.7 185.4 M603.1 82.4 L604.7 88.5 L605.9 94.7 L604.6 100.9 L600 105.3 L598.4 111.3 L598.7 117.6 M764.8 55.5 L769.8 52.6 L775.3 50.7 L781 50.8 L786 47.8 L789.7 43.3 L794.4 39.9 M600.8 26.7 L599.7 35.2 L602.9 43.2 L609.8 48.3 L617.3 52.5 L623.8 58.1 L631.8 61.1 M833.5 115.1 L829.5 110.2 L828.6 103.9 L827.4 97.7 L824.1 92.3 L820.3 87.2 L816.2 82.4 M724.7 135.7 L730 136.8 L734.9 139.2 L738.7 143 L741 147.8 L743.4 152.7 L742.8 158.1 M672.9 125.9 L671.7 115.4 L674.9 105.3 L677.4 95 L682.5 85.7 L681.5 75.1 L675 66.7 M852.4 42.5 L847.5 38.6 L842 35.5 L838.8 30.1 L836.1 24.4 L836.4 18.1 L838.2 12.1 M722.9 131.3 L724.1 135.4 L725 139.5 L724 143.5 L722.2 147.3 L719 150.1 L714.9 150.9 M852.6 199.5 L858.6 202.6 L862.8 208 L864.8 214.5 L867.9 220.4 L870.6 226.7 L870.8 233.4 M820.8 65.3 L814.5 57.3 L805.2 53 L795.6 49.5 L785.4 49.4 L776.4 44.7 L768.8 37.8 M785.3 189.4 L781.7 194 L778.6 199 L773.4 201.8 L767.9 203.6 L762.6 206.2 L756.7 206.4 M687.3 59.2 L686.6 51.6 L687.7 43.9 L692.8 38.1 L695.9 31.1 L701.2 25.5 L708 21.8 M610.4 204.6 L605.4 205.6 L600.8 207.7 L597.3 211.5 L596.1 216.5 L596.8 221.5 L597.8 226.5 M764.3 39.2 L761.5 35.2 L759.8 30.5 L760.4 25.6 L763.6 21.8 L767.3 18.7 L771.1 15.4 M600.9 143 L603.3 150.6 L602.5 158.6 L603.4 166.6 L599.8 173.7 L592.7 177.6 L584.7 178.5 M779.8 181.4 L790.3 177.4 L801.4 175.3 L810.1 167.9 L819.7 162 L828.1 154.4 L832.9 144.2 M838.5 201.5 L830.9 200.3 L823.4 201.3 L816 203.2 L808.7 205.6 L804 211.7 L797.1 214.9 M583.6 102 L586 107.1 L589.1 111.8 L590.9 117.2 L594.8 121.3 L599.7 124 L603 128.6 M841.5 83.3 L850.5 81.4 L859.1 78.3 L866.9 73.5 L876.1 73.5 L885 75.6 L893.9 78.1 M587.8 74.5 L595 70.3 L598.7 62.8 L600 54.5 L598.9 46.3 L594.6 39.1 L589.2 32.8 M634.8 33.8 L642.6 34.6 L649.1 39.2 L656.7 41.3 L664.4 43.1 L672.2 44 L680 43 M670.4 66.6 L668.4 71.2 L665.6 75.4 L663.8 80.1 L660.1 83.5 L656.9 87.4 L653.2 90.9 M729.3 91.5 L739.9 91.2 L749 96.3 L759.5 95.5 L770 94.5 L779.6 98.9 L790.1 98.8 M647.3 131.1 L643.1 125.9 L640.8 119.7 L635.5 115.6 L631.9 110 L627.9 104.7 L624.7 98.9 M783.1 41.7 L790.7 34.6 L795.2 25.3 L794.4 15 L791.3 5.1 L790.8 -5.2 L794.2 -15 M671.3 68.5 L671.3 79.9 L675.8 90.3 L677.7 101.6 L684.2 111 L693 118.2 L698.7 128.1 M663.7 151.3 L657.6 150.4 L651.5 151 L645.7 148.8 L639.7 150.2 L635 154.2 L631.2 159.1" fill="none" stroke="#3e3e3e" stroke-width="1.1" opacity="0.55" stroke-linejoin="round"/>
<path d="M578.1 130.4 L573.4 132.7 L569.8 136.4 L566.5 140.4 L564.6 145.2 L565.3 150.3 L566.8 155.3 M624.2 213.3 L628.6 213 L633.1 213.1 L637 215.2 L640.4 218 L643.7 221.1 L646.1 224.8 M689 172.8 L695.5 168.6 L702.9 167.1 L710.1 169.8 L717.7 169.7 L725.4 169.7 L732 173.6 M766.6 209.4 L771.5 206.8 L777.1 206.5 L782.1 208.9 L786.1 212.7 L790.8 215.7 L795.6 218.5 M755.1 129.2 L748 126.9 L740.6 127.5 L733.3 126.3 L726.4 123.4 L721.9 117.5 L714.9 114.9 M765.9 160.4 L762.7 163.6 L761 167.9 L758 171.3 L756.5 175.6 L757 180.1 L758.2 184.5 M717.9 173.5 L722.4 169.3 L723.9 163.3 L724.4 157.1 L722.8 151.2 L720.1 145.7 L717 140.3 M722 111.2 L725 116.1 L726.5 121.7 L728.6 127.1 L730.2 132.7 L731.8 138.2 L733.8 143.6 M791.8 142.4 L791.8 153.8 L796.6 164.2 L799.9 175.2 L803.3 186.1 L810.6 194.9 L821 199.6 M734.2 83.6 L739.6 89.3 L747.2 91.3 L754.8 93.2 L762.4 91.3 L770.2 92.1 L777.4 95.2 M652.4 42.2 L657 35.6 L658.2 27.6 L662.4 20.8 L667 14.2 L669.6 6.6 L672.8 -0.8 M667.6 194.2 L656.2 194.4 L646 189.3 L634.7 187.4 L623.5 185.2 L612.4 183 L602.8 176.8 M596.6 204 L595 196.9 L595.8 189.7 L598.1 182.9 L603.4 178 L609 173.5 L616.2 172.6 M666 94.6 L667.4 85.2 L672.9 77.6 L680.2 71.6 L688.6 67.3 L698 66.8 L707.4 67.9 M664.3 202.3 L664.2 211.8 L665.5 221.1 L670.1 229.3 L670.7 238.8 L675.7 246.8 L677.5 256 M776.6 121.6 L776 115.4 L773 109.8 L770.6 104.1 L767.9 98.4 L766.4 92.2 L764.8 86.2 M856 207.7 L858.2 203.9 L860.2 200.1 L863.3 197 L865.7 193.4 L868.5 190 L869.1 185.7 M763.9 169.9 L760.2 173.4 L755.5 175.8 L750.7 177.6 L745.5 177.2 L740.4 176.2 L735.3 177.2 M749.6 31.9 L752 26.7 L754.3 21.5 L756.2 16.2 L755.7 10.5 L757.2 5.1 L761.2 1 M779.9 166.9 L779.8 157.1 L775.6 148.3 L773.2 138.8 L775.6 129.4 L772.6 120.1 L766.4 112.6 M799.9 29.2 L799.6 39.8 L794.5 49.1 L791.9 59.4 L790.7 69.9 L794.5 79.8 L794.3 90.4 M850.4 60.3 L851.5 69.4 L857.3 76.6 L864.5 82.4 L872.4 87.2 L879.9 92.4 L887.2 98.2 M672.4 113.6 L670.5 119 L671 124.7 L671.8 130.3 L675 135 L676.2 140.5 L675.2 146.1 M608.9 178.6 L615.8 177.6 L622.5 180 L629.3 178.4 L635.5 175 L638.9 168.8 L639.9 161.8 M578.3 30.8 L576.9 24.6 L574.4 18.8 L574.9 12.5 L572.7 6.5 L570.8 0.5 L567.6 -4.9 M812.8 94.3 L819.6 97.7 L825.1 102.9 L829 109.4 L835.8 112.7 L843.3 111.6 L850.4 114.2 M670.2 85.2 L667.6 90.6 L666.5 96.5 L663.9 101.9 L660.3 106.7 L656.4 111.3 L651.6 114.9 M626.3 122.2 L622.3 123.8 L617.9 123.2 L613.8 121.7 L611.1 118.3 L607.9 115.3 L605.8 111.5 M751.9 152.5 L757.6 153.6 L763.3 154.8 L769.2 154.9 L774.7 152.9 L779.8 150.2 L785 147.6 M784.7 149.8 L778.2 144 L770.6 139.8 L763.4 135 L757.9 128.2 L756.3 119.7 L758.1 111.2" fill="none" stroke="#505050" stroke-width="0.8" opacity="0.5" stroke-linejoin="round"/>
<g fill="none" stroke="#fafafa" filter="url(#blur1)"><path d="M620.3 24.6 Q614.1 108.9 617.8 193.3" stroke-width="1.1" opacity="0.8"/><path d="M628.1 57.9 Q620.2 105.6 616.8 153.3" stroke-width="1.3" opacity="0.9"/><path d="M613.4 44.7 Q614.1 110.6 613.2 176.6" stroke-width="0.8" opacity="0.6"/><path d="M627.7 37.9 Q629.9 97.9 622.9 157.9" stroke-width="0.7" opacity="0.5"/><path d="M632.1 53.6 Q623.9 117.4 625.4 181.2" stroke-width="0.7" opacity="0.8"/><path d="M616.5 38.9 Q610.4 118.9 616.6 198.8" stroke-width="1.2" opacity="0.5"/><path d="M638.9 50.3 Q642.3 124.5 638.8 198.8" stroke-width="0.7" opacity="0.9"/><path d="M635.5 36.8 Q629.4 105.4 638.4 174" stroke-width="1" opacity="0.7"/><path d="M615.7 44 Q611.6 113 621.4 181.9" stroke-width="1.4" opacity="0.6"/><path d="M614.3 52.2 Q608.5 122.2 618.2 192.3" stroke-width="1.3" opacity="1"/><path d="M619.7 49.2 Q612.8 101.9 611.9 154.6" stroke-width="1.1" opacity="0.9"/><path d="M631.4 30.4 Q630.1 96.9 633.5 163.5" stroke-width="1.2" opacity="0.5"/><path d="M624.7 26 Q625.3 103.8 621.5 181.5" stroke-width="1.4" opacity="0.8"/><path d="M628 40.9 Q636.2 97.7 633.7 154.4" stroke-width="1.3" opacity="0.9"/><path d="M632.5 37.7 Q637.8 108 635.3 178.3" stroke-width="1.3" opacity="0.9"/><path d="M620.7 39.1 Q616.1 119.2 610.8 199.4" stroke-width="1" opacity="0.8"/><path d="M616 35 Q612 70 615 100 Q625 120 613 140 Q604 160 609 190 Q620 210 640 205" stroke-width="1.6"/><path d="M622 30 Q625 80 630 110 Q626 140 633 170 Q642 190 638 206" stroke-width="1.3"/></g>
<path d="M611 196 Q625 212 642 206 Q648 198 640 192 Q625 200 611 196 Z" fill="#fafafa" filter="url(#blur1)"/>
<g fill="none" stroke="#f4f4f4" filter="url(#blur1)" stroke-linecap="round"><path d="M819.6 40.9 Q819 55 817.6 64.8 Q815 76 811.6 84.8 Q808 95 805.6 104.7 Q802 116 800.7 126.6 Q800 134 801.7 138.6 Q804 141.5 807.6 142.6 Q818 145 829.6 148.5" stroke-width="2"/><path d="M829.6 148.5 Q830 153 827.6 158.5 Q824 166 819.6 172.5 Q814 177 808.6 180.4" stroke-width="1.8"/><path d="M815.6 84.8 Q813 95 813.6 104.7 Q816 113 821.6 120.6 Q826 130 827.6 142.6" stroke-width="1.5"/><path d="M823.6 64.8 Q828 90 829.6 114.7" stroke-width="0.9" opacity="0.7"/><path d="M801.7 138.6 Q803 160 806 182 Q806 200 804 215" stroke-width="0.8" opacity="0.5"/></g>
<path d="M822 140 Q832 138 834 148 Q833 158 826 156 Q820 150 822 140 Z" fill="#ffffff" filter="url(#blur1)"/>
<path d="M851 18 L872 18 L872 56 Q866 50 862 44 Q856 40 855 32 Q851 26 851 18 Z" fill="#c4c4c4" filter="url(#blur1)"/>
<g fill="#f0f0f0" filter="url(#blur1)"><circle cx="858" cy="24" r="3"/><circle cx="866" cy="30" r="3.5"/><circle cx="869" cy="44" r="2.5"/><circle cx="861" cy="37" r="2"/></g>
<path d="M690 17 Q705 22 720 20 Q730 18 740 22" stroke="#222" stroke-width="3" fill="none" opacity="0.6"/>
</g>
<g fill="none" stroke="#fff" stroke-width="1.6"><ellipse cx="599.2" cy="144.2" rx="10.3" ry="12.3"/><ellipse cx="586.2" cy="165.6" rx="10.3" ry="12.3"/><ellipse cx="609.8" cy="170.1" rx="10.3" ry="12.3"/><ellipse cx="632.4" cy="154.3" rx="10.3" ry="12.3"/><ellipse cx="632.4" cy="184.7" rx="10.3" ry="12.3"/><ellipse cx="590" cy="193.7" rx="10.3" ry="12.3"/><ellipse cx="603.5" cy="218" rx="10.3" ry="12.3"/><ellipse cx="642.5" cy="210.6" rx="10.3" ry="12.3"/><ellipse cx="668" cy="195.5" rx="10.3" ry="12.3"/><ellipse cx="626.7" cy="230.9" rx="10.3" ry="12.3"/><ellipse cx="661.2" cy="230.2" rx="10.3" ry="12.3"/></g>
<ellipse cx="657" cy="167.8" rx="11.5" ry="13.3" fill="#8acb1f"/>
<text x="796.9" y="226" font-size="21.30" style="fill:#fff">250 µm</text>
<rect x="824" y="232.6" width="32" height="2" fill="#fff"/>
<defs><filter id="spk" x="0" y="0" width="1" height="1" color-interpolation-filters="sRGB"><feTurbulence type="fractalNoise" baseFrequency="0.75" numOctaves="1" seed="4" result="n"/><feColorMatrix in="n" type="matrix" values="0 0 0 0 0.3  0 0 0 0 0.7  0 0 0 0 0.3  12 0 0 0 -8.0"/></filter><filter id="spk2" x="0" y="0" width="1" height="1" color-interpolation-filters="sRGB"><feTurbulence type="fractalNoise" baseFrequency="0.9" numOctaves="1" seed="11" result="n"/><feColorMatrix in="n" type="matrix" values="0 0 0 0 0.07  0 0 0 0 0.3  0 0 0 0 0.07  5 0 0 0 -2.7"/></filter><filter id="blob" x="0" y="0" width="1" height="1" color-interpolation-filters="sRGB"><feTurbulence type="fractalNoise" baseFrequency="0.025" numOctaves="2" seed="7" result="n"/><feColorMatrix in="n" type="matrix" values="0 0 0 0 0.05  0 0 0 0 0.28  0 0 0 0 0.05  2.2 0 0 0 -1.25"/></filter><filter id="rtex" color-interpolation-filters="sRGB"><feTurbulence type="fractalNoise" baseFrequency="0.28" numOctaves="1" seed="3" result="n"/><feColorMatrix in="n" type="matrix" values="0 0 0 0 0  0 0 0 0 0  0 0 0 0 0  -5 0 0 0 3.6" result="m"/><feComposite in="SourceGraphic" in2="m" operator="in"/></filter><filter id="vtex" color-interpolation-filters="sRGB"><feTurbulence type="fractalNoise" baseFrequency="0.5 0.1" numOctaves="2" seed="8" result="n"/><feColorMatrix in="n" type="matrix" values="0 0 0 0 0  0 0 0 0 0  0 0 0 0 0  -4 0 0 0 3.0" result="m"/><feComposite in="SourceGraphic" in2="m" operator="in"/></filter><linearGradient id="vfade" x1="0" y1="0" x2="0" y2="1"><stop offset="0" stop-color="#e8261a"/><stop offset="0.55" stop-color="#e0241a"/><stop offset="1" stop-color="#6a1510"/></linearGradient><clipPath id="mc"><rect x="591" y="265" width="264" height="250.6"/></clipPath></defs>
<rect x="591" y="265" width="264" height="250.6" fill="#050e05"/>
<g clip-path="url(#mc)">
<rect x="591" y="265" width="264" height="250.6" filter="url(#blob)"/>
<rect x="591" y="265" width="264" height="250.6" filter="url(#spk2)"/>
<rect x="591" y="265" width="264" height="250.6" filter="url(#spk)"/>
<g filter="url(#vtex)"><path d="M600 265 L654 265 Q649 285 644 300 Q638 318 631 332 Q622 348 612 362 Q604 375 601 395 L595 395 Q596 330 600 265 Z" fill="url(#vfade)"/></g>
<path d="M596 395 Q598 380 604 365" stroke="#5a1410" stroke-width="8" fill="none" opacity="0.6"/>
<g fill="#ec2a1c" filter="url(#rtex)">
<rect x="624.4" y="376.5" width="11.2" height="13.5" transform="rotate(-5 630 383.2)"/>
<rect x="647.5" y="372" width="21.4" height="16" transform="rotate(-8 658.2 380)"/>
<rect x="675.6" y="368" width="14.1" height="18.7" transform="rotate(-12 682.7 377.4)"/>
<rect x="697.6" y="356" width="16.3" height="24" transform="rotate(-18 705.8 368)"/>
<rect x="720" y="336" width="18" height="32" transform="rotate(-25 729 352)"/>
<rect x="743" y="321" width="6" height="27" transform="rotate(-12 746 334.5)"/>
<rect x="752" y="314" width="12" height="27" transform="rotate(-8 758 327.5)"/>
<rect x="610" y="380" width="6" height="12" transform="rotate(0 613 386)"/>
</g>
<g fill="#7a1a14" opacity="0.8" filter="url(#rtex)"><rect x="770" y="304" width="11" height="24" transform="rotate(-8 775 316)"/><rect x="785" y="296" width="8" height="20" transform="rotate(-8 789 306)"/></g>
<path d="M731.1 351.6 L756 330.5 L804.5 368.3 L783.8 341.2 L815.6 358.9 L793.5 336.7" fill="none" stroke="#ffee00" stroke-width="2.8" stroke-linejoin="round" stroke-linecap="round"/>
</g>
<text x="799.1" y="497.5" font-size="21.50" style="fill:#fff">5 µm</text>
<rect x="794" y="504.5" width="56" height="2" fill="#fff"/>
<text x="933.5" y="30.3" font-size="42.00" font-weight="bold">b</text>
<text x="997.2" y="109" font-size="37.27">Neurons</text>
<g stroke="#000" stroke-width="5" fill="none"><circle cx="1181" cy="96" r="19.8"/><path d="M1167 82 L1195 110 M1167 110 L1195 82"/></g>
<text x="961.9" y="159.3" font-size="36.71">ΔF Ca<tspan dy="-18.4" font-size="17.6">2+</tspan><tspan dy="18.4"> (a.u.)</tspan></text>
<text x="1268.6" y="110.3" font-size="37.06">Transfer function</text>
<rect x="1605.5" y="96.5" width="33.5" height="5"/><rect x="1605.5" y="109" width="33.5" height="5"/>
<text x="1656" y="109.5" font-size="36.66">Vascular response</text>
<text x="1677.6" y="158" font-size="36.16">ΔRBC velocity (%)</text>
<rect x="1018.3" y="205.8" width="71.6" height="219.6" fill="#f8e6d4"/>
<path d="M951 427.1 L951.8 428.2 L952.6 423.3 L953.4 416.7 L954.2 415.5 L955 419.6 L955.8 420.1 L956.6 419.2 L957.4 419.2 L958.2 419.5 L959 415.8 L959.8 419.5 L960.6 425.6 L961.4 427.8 L962.2 425.4 L963 419.3 L963.8 417.5 L964.6 414.1 L965.4 418.3 L966.2 419.4 L967 413.1 L967.8 415.4 L968.6 422.8 L969.4 423.9 L970.2 416.6 L971 413.8 L971.8 418.2 L972.6 419.6 L973.4 415.5 L974.2 414 L975 413.7 L975.8 415.3 L976.6 405.1 L977.4 393.2 L978.2 392.1 L979 391.6 L979.8 395.7 L980.6 404.2 L981.4 412.4 L982.2 415.1 L983 407.6 L983.8 410 L984.6 413.8 L985.4 407.3 L986.2 406.9 L987 410.4 L987.8 409.8 L988.6 411 L989.4 406.3 L990.2 404.7 L991 413.1 L991.8 415.5 L992.6 408.5 L993.4 400 L994.2 391.7 L995 376 L995.8 380.9 L996.6 385.5 L997.4 388 L998.2 393.6 L999 401.1 L999.8 413.2 L1000.6 412.6 L1001.4 416.7 L1002.2 418.2 L1003 416.5 L1003.8 419 L1004.6 415.7 L1005.4 416.7 L1006.2 425.3 L1007 421.3 L1007.8 418.5 L1008.6 421.2 L1009.4 423.8 L1010.2 425.7 L1011 422.8 L1011.8 423.4 L1012.6 422.3 L1013.4 416.7 L1014.2 420.1 L1015 420.3 L1015.8 417.2 L1016.6 423 L1017.4 420.1 L1018.2 418.9 L1019 424.7 L1019.8 415.6 L1020.6 402 L1021.4 377.4 L1022.2 348.5 L1023 324.1 L1023.8 304.4 L1024.6 280.5 L1025.4 271.8 L1026.2 266.6 L1027 254.9 L1027.8 256.3 L1028.6 246.2 L1029.4 235.3 L1030.2 256 L1031 262.7 L1031.8 237.2 L1032.6 231.8 L1033.4 250.1 L1034.2 264.6 L1035 264.9 L1035.8 253 L1036.6 248.6 L1037.4 262.8 L1038.2 275.6 L1039 268.1 L1039.8 266.7 L1040.6 270.8 L1041.4 281.1 L1042.2 279.3 L1043 277.7 L1043.8 292.5 L1044.6 293.1 L1045.4 278.2 L1046.2 286.7 L1047 288.8 L1047.8 281 L1048.6 280.9 L1049.4 261.6 L1050.2 271 L1051 289.6 L1051.8 286.7 L1052.6 286.6 L1053.4 281.2 L1054.2 271.8 L1055 276.2 L1055.8 300.4 L1056.6 309.4 L1057.4 287 L1058.2 284.5 L1059 284.8 L1059.8 275.4 L1060.6 287.5 L1061.4 286.5 L1062.2 262.9 L1063 259.1 L1063.8 275 L1064.6 284.1 L1065.4 294.4 L1066.2 286.4 L1067 281.3 L1067.8 291.5 L1068.6 283.1 L1069.4 286.6 L1070.2 292.2 L1071 276.5 L1071.8 281.7 L1072.6 278.4 L1073.4 269 L1074.2 280.2 L1075 283.4 L1075.8 276.7 L1076.6 272.4 L1077.4 277.6 L1078.2 287.1 L1079 280.9 L1079.8 272.4 L1080.6 276.9 L1081.4 263.8 L1082.2 290.3 L1083 301.1 L1083.8 262.3 L1084.6 275.4 L1085.4 278.7 L1086.2 268.7 L1087 286 L1087.8 276.1 L1088.6 263.3 L1089.4 263.2 L1090.2 264.9 L1091 253.9 L1091.8 251.9 L1092.6 272.9 L1093.4 299.4 L1094.2 308.7 L1095 316.9 L1095.8 319.9 L1096.6 305.9 L1097.4 309.3 L1098.2 309.1 L1099 314.2 L1099.8 323.9 L1100.6 334.2 L1101.4 347.2 L1102.2 344.3 L1103 339.1 L1103.8 334.7 L1104.6 338.1 L1105.4 349.7 L1106.2 353.7 L1107 348 L1107.8 357.8 L1108.6 370.1 L1109.4 358.2 L1110.2 348.5 L1111 350 L1111.8 356.8 L1112.6 361.4 L1113.4 366.1 L1114.2 373.4 L1115 380.2 L1115.8 382.5 L1116.6 374.4 L1117.4 370.4 L1118.2 369.1 L1119 364.1 L1119.8 376.8 L1120.6 377.7 L1121.4 378.4 L1122.2 380.1 L1123 372.2 L1123.8 381.1 L1124.6 381.2 L1125.4 378.9 L1126.2 378.9 L1127 375.8 L1127.8 377.6 L1128.6 379.4 L1129.4 392.2 L1130.2 398.5 L1131 400.5 L1131.8 388.4 L1132.6 380.4 L1133.4 396.5 L1134.2 395.3 L1135 398.1 L1135.8 402.9 L1136.6 396.5 L1137.4 395.8 L1138.2 410.8 L1139 410.1 L1139.8 398.5 L1140.6 395.5 L1141.4 395 L1142.2 391.3 L1143 390.1 L1143.8 407.7 L1144.6 414 L1145.4 406.3 L1146.2 407 L1147 413.3 L1147.8 411.5 L1148.6 413 L1149.4 415.7 L1150.2 407.8 L1151 411.3 L1151.8 400.7 L1152.6 391.2 L1153.4 403.4 L1154.2 402.6 L1155 401.4 L1155.8 403 L1156.6 401.1 L1157.4 415.8 L1158.2 421.5 L1159 409.8 L1159.8 413 L1160.6 412.5 L1161.4 410.9 L1162.2 413.6 L1163 417 L1163.8 409.7 L1164.6 406.3 L1165.4 413.1 L1166.2 405.2 L1167 409.4 L1167.8 410.8 L1168.6 413.4 L1169.4 419.5 L1170.2 415.9 L1171 414.3 L1171.8 415.4 L1172.6 407.4 L1173.4 404.1 L1174.2 409.6 L1175 410.7 L1175.8 413.4 L1176.6 415.1 L1177.4 411.9 L1178.2 417.3 L1179 430.9 L1179.8 422.3 L1180.6 412.6 L1181.4 414.9 L1182.2 420.5 L1183 427.5 L1183.8 417.1 L1184.6 406.6 L1185.4 407.4 L1186.2 405.5 L1187 403.2 L1187.8 409.6 L1188.6 411.8 L1189.4 416.8 L1190.2 425.7 L1191 415.1 L1191.8 407.1 L1192.6 409 L1193.4 419.5 L1194.2 418.6 L1195 406.5 L1195.8 410.1 L1196.6 418.1 L1197.4 415.7 L1198.2 421.2 L1199 425.1 L1199.8 420.3 L1200.6 415.8 L1201.4 413.8 L1202.2 416.9 L1203 407.5 L1203.8 409.4 L1204.6 411.5 L1205.4 410.3 L1206.2 411.7 L1207 420.5 L1207.8 428.2 L1208.6 423.4 L1209.4 426 L1210.2 416.8 L1211 403.3 L1211.8 407.6 L1212.6 421.2 L1213.4 423 L1214.2 422.6 L1215 426.3 L1215.8 416.7 L1216.6 414 L1217.4 428.8 L1218.2 425.2 L1219 408.4 L1219.8 409.9 L1220.6 416.6 L1221.4 419.5 L1222.2 417.7 L1223 416.4 L1223.8 410.8 L1224.6 414.1 L1225.4 430.3 L1226.2 432.2 L1227 419.1 L1227.8 414.9 L1228.6 408.8 L1229.4 408.6 L1230.2 421.1 L1231 415.7 L1231.8 417.4 L1232.6 422.3 L1233.4 424.8 L1234.2 424.8 L1235 421.9 L1235.8 413.1 L1236.6 407.3 L1237.4 413.5 L1238.2 419.7 L1239 421.8 L1239.8 426.9 L1240.6 423.3 L1241.4 415.9 L1242.2 420.7 L1243 420.8 L1243.8 421.9 L1244.6 420.5 L1245.4 424.4 L1246.2 425.5 L1247 424.3 L1247.8 425.5 L1248.6 427.2 L1249.4 421.4 L1250.2 417.3 L1251 421.4 L1251.8 420.3 L1252.6 427.2 L1253.4 421.4 L1254.2 410.8 L1255 411.4 L1255.8 418.1 L1256.6 414.4 L1257.4 413.8 L1258.2 416.4 L1259 411.1 L1259.8 415.1 L1260.6 421.6 L1261.4 420.5 L1262.2 416.8 L1263 419.4 L1263.8 420.3 L1264.6 409.2 L1265.4 408.6 L1266.2 420.3 L1267 426.8 L1267.8 435.2 L1268.6 433.4 L1269.4 425.1 L1270.2 418.2 L1271 418.3" fill="none" stroke="#4fbde9" stroke-width="3.5" stroke-linejoin="round"/>
<rect x="941" y="255.3" width="3.8" height="83"/>
<text x="950.2" y="315.7" font-size="29.00">50</text>
<g stroke="#000" stroke-width="5" fill="none"><circle cx="1266.8" cy="319" r="19.4"/><path d="M1253.1 305.3 L1280.5 332.7 M1253.1 332.7 L1280.5 305.3"/></g>
<path d="M1311.3 427.9 L1312.5 427.9 L1314.1 428 L1316.1 428.1 L1318.2 428.2 L1320.2 428.1 L1321.9 427.9 L1323.4 427.6 L1324.7 427.1 L1326 426.6 L1327.3 425.9 L1328.6 425.1 L1330 424 L1331.6 422.7 L1333.2 421.1 L1334.9 419.4 L1336.6 417.5 L1338.2 415.5 L1339.8 413.4 L1341.3 411.1 L1342.7 408.7 L1344 406.2 L1345.4 403.5 L1346.7 400.8 L1348 398 L1349.3 395.2 L1350.7 392.4 L1352 389.5 L1353.3 386.4 L1354.6 383.1 L1355.8 379.5 L1356.9 375.5 L1357.9 371.2 L1358.9 366.6 L1359.9 361.9 L1360.9 357 L1362 352 L1363.2 346.8 L1364.5 341.3 L1365.8 335.7 L1367.2 330.2 L1368.5 324.8 L1369.7 319.7 L1370.8 315 L1371.9 310.6 L1372.8 306.3 L1373.8 302.2 L1374.9 298.1 L1376 294 L1377.2 289.8 L1378.5 285.5 L1379.9 281.3 L1381.2 277.2 L1382.5 273.3 L1383.7 269.8 L1384.8 266.6 L1385.9 263.6 L1387 260.9 L1388 258.4 L1389 256.1 L1390 254 L1391 252.2 L1392 250.6 L1392.9 249.3 L1393.9 248.1 L1394.8 247 L1395.7 245.9 L1396.6 244.9 L1397.5 243.9 L1398.4 243.1 L1399.3 242.3 L1400.1 241.6 L1401 241 L1401.9 240.5 L1402.7 240.1 L1403.6 239.7 L1404.4 239.5 L1405.3 239.3 L1406.2 239.3 L1407.1 239.3 L1408 239.5 L1409 239.7 L1409.9 240.1 L1410.9 240.5 L1412 241 L1413.1 241.5 L1414.3 242.1 L1415.6 242.7 L1416.9 243.5 L1418.2 244.5 L1419.6 245.9 L1421 247.7 L1422.6 249.7 L1424.1 252 L1425.7 254.5 L1427.3 257.2 L1429 260 L1430.7 263 L1432.5 266.2 L1434.2 269.6 L1436 273 L1437.8 276.5 L1439.5 279.8 L1441.1 283 L1442.7 286.2 L1444.2 289.3 L1445.8 292.5 L1447.4 295.7 L1449 299 L1450.7 302.4 L1452.5 305.9 L1454.2 309.4 L1456 312.9 L1457.8 316.4 L1459.5 319.7 L1461.1 322.9 L1462.7 326 L1464.3 329 L1465.8 332 L1467.4 335 L1469 338 L1470.7 341 L1472.4 344.1 L1474.2 347.1 L1476 350.1 L1477.7 352.9 L1479.4 355.6 L1481 358.1 L1482.6 360.4 L1484.2 362.6 L1485.8 364.8 L1487.4 366.9 L1489 369 L1490.6 371.1 L1492.2 373.2 L1493.8 375.2 L1495.5 377.3 L1497.3 379.4 L1499.3 381.5 L1501.5 383.7 L1503.9 386 L1506.3 388.3 L1508.9 390.5 L1511.5 392.8 L1514 395 L1516.5 397.2 L1519 399.4 L1521.6 401.6 L1524.1 403.7 L1526.7 405.6 L1529.2 407.4 L1531.7 409 L1534.2 410.4 L1536.6 411.6 L1539.1 412.8 L1541.5 413.9 L1544 415 L1546.5 416.1 L1548.9 417 L1551.4 418 L1553.8 418.9 L1556.4 419.7 L1559.1 420.4 L1561.9 421.1 L1564.8 421.6 L1567.8 422.1 L1570.8 422.6 L1573.9 423.1 L1577 423.5 L1580.4 423.9 L1584.1 424.4 L1587.8 424.8 L1591.3 425.2 L1594.3 425.5 L1596.4 425.7" fill="none" stroke="#808080" stroke-width="4.6" stroke-linejoin="round"/>
<text x="1391.5" y="373.5" font-size="91" transform="translate(1391.5 0) scale(0.9 1) translate(-1391.5 0)">?</text>
<rect x="1605" y="315.7" width="34" height="5"/><rect x="1605" y="328.8" width="34" height="5.2"/>
<rect x="1720.4" y="216.9" width="71.2" height="219.6" fill="#f8e6d4"/>
<path d="M1652.4 432 L1654.6 400.5 L1659 429.8 L1663.7 398.2 L1669.3 423 L1673.8 387 L1677 392 L1680.5 375.7 L1686.2 419.6 L1690.7 383.6 L1696.3 402.7 L1699 400 L1702 416 L1706.5 407.3 L1710 412 L1714.3 396 L1718.8 433.2 L1723 412 L1727.9 405 L1733.5 415.1 L1739 380.2 L1744.8 346.4 L1748 347 L1750.4 335.2 L1754 341 L1756 338 L1760.5 292.4 L1765 328.4 L1770 310 L1774 296.9 L1778 305 L1783 323.9 L1787.6 237.2 L1791 287.9 L1795.4 249.6 L1798.8 296.9 L1804.5 236 L1810 275 L1814.6 292.4 L1820.2 256.3 L1823.6 287.9 L1828.1 255.2 L1834.9 304.8 L1840.5 276.6 L1848.4 321.6 L1852 318 L1857.4 341.9 L1860 340 L1864.1 361.1 L1869.8 335.2 L1874.3 349.8 L1877.7 332.9 L1883.3 353.2 L1888 356 L1894.6 382.5 L1899 370 L1903 384 L1908.1 387 L1913.7 367.8 L1917 373 L1920.5 382.5 L1926 372 L1931.7 399.4 L1938.5 380.2 L1943 392 L1947.5 366.7 L1950.9 398.2 L1956 385 L1960 388 L1966.7 380.2 L1970 401.6" fill="none" stroke="#0070c0" stroke-width="5" stroke-linejoin="round"/>
<rect x="1884" y="241.7" width="4" height="73.2"/>
<text x="1893.4" y="294.2" font-size="29.45">50 %</text>
<rect x="1846" y="445.8" width="71.5" height="4"/>
<text x="1864.1" y="438.8" font-size="29.44">5 s</text>
<text x="-1" y="628" font-size="42.00" font-weight="bold">c</text>
<path d="M79.3 866.6 L80.9 866.4 L82.2 865.6 L83.3 864.2 L84.4 862 L85.5 858.9 L86.6 855.1 L89 844.1 L91 832.1 L93.2 817.3 L102.3 749.8 L106.4 721.3 L110.8 695.1 L113 684 L115.3 674.3 L117.5 665.9 L119.7 658.8 L122.1 652.6 L124.4 647.7 L126.8 644 L129.4 641.3 L130.6 640.3 L132 639.6 L133.3 639.2 L134.7 639.1 L136.6 639.3 L138.5 640 L140.4 641.1 L142.5 642.7 L146.8 647 L151.7 653.5 L155.6 659.4 L160.2 667 L183.8 708.7 L190.2 719.4 L196.5 729.6 L203.5 740.2 L210.5 750.1 L217.4 759.3 L225 768.6 L232.6 777.1 L240.2 784.9 L247.8 792.1 L256.1 799.2 L264.3 805.6 L273.2 811.8 L282.1 817.4 L290.9 822.4 L301.7 827.8 L312.5 832.6 L323.9 837 L335.9 841 L348.6 844.6 L361.9 847.9 L375.8 850.8 L390.4 853.4 L406.2 855.7 L422.7 857.7 L440.5 859.4 L459.5 860.9 L480.4 862.2 L502.5 863.2 L527.3 864.1 L554.5 864.8 M79.3 866.6 L81.7 866.5 L83.1 866.1 L84.4 865.3 L85.6 863.8 L86.9 861.5 L88.2 858.2 L90.5 849.4 L92.9 837 L95.6 819.4 L98.5 797.7 L108 720.3 L111.3 697 L114.5 678.2 L116.4 668.7 L118.1 661.2 L120 654.3 L121.9 648.8 L123.8 644.7 L125.9 641.5 L126.8 640.5 L127.9 639.7 L128.9 639.3 L130 639.1 L131.4 639.4 L132.8 640.1 L134.4 641.5 L136 643.4 L139.3 648.8 L143 656.6 L146.1 664.5 L149.6 674.1 L166.6 724.5 L175.6 749.4 L180.7 762.1 L185.1 772.3 L190.2 783 L195.2 792.6 L200.3 801.2 L206 809.9 L211.7 817.5 L218.1 824.8 L224.4 831 L230.7 836.4 L237.7 841.4 L245.3 845.9 L252.9 849.6 L261.1 852.9 L269.4 855.5 L278.9 858 L289 860 L299.8 861.6 L311.8 863 L325.1 864 L339.1 864.8 L354.3 865.4 L393.6 866.2 L448.7 866.5 L554.5 866.6 M79.3 866.6 L79.9 866.2 L80.6 865.2 L81.8 861.3 L83.3 854.6 L84.8 844.9 L87.7 823.6 L95.1 760.6 L98.9 730.9 L103.1 703.1 L105.1 691.3 L107.2 680.7 L109.4 670.9 L111.6 662.6 L114 655.2 L116.4 649.4 L118.9 644.8 L121.4 641.6 L122.7 640.5 L124.1 639.7 L125.4 639.3 L126.8 639.1 L128.6 639.3 L130.5 640.1 L132.4 641.3 L134.3 643 L136.3 645.1 L138.5 647.9 L143.1 654.9 L147.1 661.8 L151.5 670.3 L173.4 715.3 L179.4 727.2 L185.1 737.9 L191.4 749.1 L197.8 759.5 L204.1 769.1 L211.1 778.9 L218.1 787.7 L225 795.7 L232 802.9 L239.6 810 L247.2 816.4 L255.4 822.4 L263.7 827.8 L272.5 832.8 L282.1 837.5 L292.2 841.8 L303 845.7 L314.4 849.1 L326.4 852.1 L339.7 854.9 L353.6 857.2 L368.2 859.1 L383.4 860.7 L400.5 862.1 L418.9 863.2 L439.8 864.2 L462.6 864.9 L488.6 865.5 L554.5 866.2 M79.3 866.6 L79.8 865.1 L80.4 861.5 L82 848.7 L89.3 774.1 L93.2 737.8 L97 708.8 L100.8 685.8 L103.1 675 L105.4 665.3 L108 657 L110.5 650.5 L113.2 645.5 L114.6 643.4 L116 641.9 L117.5 640.7 L118.9 639.8 L120.5 639.3 L122.1 639.1 L123.8 639.3 L125.7 639.9 L127.6 640.9 L129.5 642.3 L133.8 646.4 L138.7 652.4 L142.7 658.1 L147.3 665.1 L171 704.3 L178.1 715.6 L184.5 725.1 L192.1 735.9 L199.7 746 L207.3 755.4 L214.9 764.2 L222.5 772.2 L230.7 780.3 L239 787.6 L247.8 794.9 L256.7 801.5 L266.2 807.9 L275.7 813.6 L285.2 818.8 L296 824.1 L307.4 829.1 L319.4 833.7 L332.1 837.9 L345.4 841.8 L359.4 845.3 L373.9 848.4 L389.1 851.2 L405 853.6 L422.1 855.8 L440.5 857.8 L459.5 859.4 L480.4 860.9 L503.2 862.1 L527.9 863.2 L554.5 864.1 M79.3 866.6 L80.6 866.4 L81.5 865.6 L82.5 863.9 L83.3 861.8 L85 854.3 L86.9 842.2 L90.2 813.1 L96.7 745.1 L99.6 717.2 L102.6 691.8 L105.4 672.3 L108.3 657.5 L109.7 651.9 L111.1 647.3 L112.6 643.8 L114.1 641.1 L115.7 639.6 L117.3 639.1 L118.4 639.3 L119.7 640.1 L121 641.4 L122.2 643.2 L124.9 648.4 L127.9 655.9 L130.5 663.4 L133.5 673.2 L148.4 725.9 L156.3 751.7 L160.7 764.7 L165.2 776.5 L169.6 787.2 L174.2 797.1 L179.4 807 L184.5 815.4 L189.5 822.7 L195.2 829.7 L201 835.6 L207.3 841.2 L214.3 846.1 L221.2 850.1 L228.2 853.3 L235.2 855.9 L242.8 858.2 L251.6 860.3 L261.1 861.9 L271.3 863.2 L282.7 864.2 L296 865 L323.9 865.9 L362.5 866.4 L554.5 866.6 M79.3 866.6 L79.6 866.4 L80.1 865.4 L81 861.2 L82.9 846.3 L85 824.1 L90.1 761.9 L92.8 731.5 L95.6 703.8 L98.5 681.5 L100.1 671.4 L101.8 662.1 L103.4 655.3 L105.1 649.3 L106.9 644.8 L108.8 641.5 L109.7 640.4 L110.7 639.7 L111.6 639.2 L112.6 639.1 L113.7 639.3 L114.9 639.9 L116.2 640.9 L117.6 642.5 L120.5 646.9 L123.7 653.1 L126.3 659.3 L129.5 667.2 L146.8 714.3 L151.8 727.3 L156.8 739.2 L162.3 751.7 L168 763.5 L173.7 774.1 L179.4 783.8 L185.7 793.4 L192.1 801.9 L199.1 810.2 L206 817.4 L213.6 824.2 L221.2 830.1 L229.5 835.6 L238.3 840.5 L247.2 844.7 L256.7 848.5 L266.8 851.8 L278.3 854.7 L289.7 857.1 L302.3 859.2 L316.3 861 L331.5 862.5 L347.3 863.6 L365.1 864.5 L384.7 865.1 L407.5 865.7 L464.5 866.3 L554.5 866.5 M79.3 866.6 L80.1 860.7 L81 848.5 L85.8 773.5 L88.3 738 L90.9 708.7 L93.4 685.6 L95 674.1 L96.6 664.6 L98.1 657 L99.9 650.4 L101.8 645.2 L103.7 641.8 L104.6 640.6 L105.8 639.7 L106.7 639.3 L107.8 639.1 L108.9 639.3 L110 639.7 L111.3 640.6 L112.6 641.8 L115.3 645.2 L118.3 650 L121.4 656 L125.1 663.5 L144.4 705.9 L149.6 716.6 L154.7 726.4 L161.4 738.5 L168 749.5 L175 760.2 L181.9 769.8 L189.5 779.4 L197.8 788.7 L206 797 L214.3 804.5 L223.1 811.6 L232.6 818.3 L242.1 824.2 L252.3 829.7 L263 834.8 L274.4 839.4 L285.9 843.3 L298.5 847.1 L311.8 850.3 L325.8 853.2 L341 855.7 L356.8 857.8 L373.9 859.7 L392.3 861.2 L412.6 862.5 L434.7 863.6 L459.5 864.5 L486.7 865.1 L554.5 866 M79.3 866.6 L79.6 866.3 L79.9 865.4 L80.7 861.1 L82.3 845.3 L83.9 823.7 L90.1 729.6 L92.3 701.9 L94.3 681 L96.7 662.5 L98 655.1 L99.3 649.2 L100.5 644.8 L101.8 641.7 L103.2 639.7 L103.9 639.3 L104.6 639.1 L105.6 639.4 L106.5 640.1 L108.4 642.9 L110.5 647.6 L112.9 654.7 L117.3 671 L130 724 L137.1 751.2 L141.1 764.6 L145.2 777.2 L149.3 788.5 L153.4 798.4 L158 808.2 L162.9 817.2 L168 825 L173.4 832.1 L178.8 837.9 L185.1 843.6 L191.4 848.2 L198.4 852.1 L204.8 855 L211.7 857.5 L219.3 859.6 L227.6 861.4 L236.4 862.8 L246.6 863.9 L258 864.8 L270.6 865.5 L297.3 866.1 L335.9 866.5 L554.5 866.6 M79.3 866.6 L79.9 860.9 L80.7 848.5 L84.5 774.3 L86.6 738 L88.5 710.1 L90.5 685.9 L92.9 665.4 L94.2 657.3 L95.6 650.2 L97 645.1 L98.5 641.7 L99.9 639.8 L100.7 639.3 L101.5 639.1 L102.3 639.3 L103.2 639.8 L105.1 642.1 L107.2 645.9 L109.4 651.1 L111.8 657.7 L114.6 666.5 L129.5 715.7 L133.5 727.8 L137.4 739.1 L142.5 752.4 L147.7 764.9 L153 776.1 L158.3 786.3 L164.4 796.5 L170.5 805.6 L176.9 813.7 L183.8 821.4 L191.4 828.5 L199.1 834.5 L207.3 839.9 L215.5 844.5 L223.8 848.2 L232.6 851.5 L242.1 854.4 L252.9 857.1 L264.3 859.2 L276.3 861 L290.3 862.5 L305.5 863.7 L320.7 864.5 L338.4 865.2 L382.2 866.1 L443 866.5 L554.5 866.6 M79.3 866.6 L79.8 865.2 L80.3 861.2 L81.4 844.8 L86.6 730 L88.2 701.2 L89.6 680.3 L91.2 662.6 L92.9 649.4 L93.9 644.7 L94.8 641.5 L95.8 639.7 L96.2 639.2 L96.7 639.1 L97.4 639.3 L98 640 L99.3 642.5 L100.7 646.9 L102.1 652.6 L105.8 670.9 L115.7 727.8 L120.6 752.6 L124 767.4 L127.3 780.6 L130.6 792.1 L134.1 802.7 L137.9 812.5 L142 821.6 L146.5 829.7 L151.1 836.6 L156 842.5 L161.4 847.7 L167.1 852 L173.4 855.6 L178.8 858 L184.5 859.9 L190.8 861.6 L197.8 862.9 L205.4 864 L214.3 864.9 L224.4 865.5 L236.4 866 L259.9 866.4 L295.4 866.6 L554.5 866.6 M79.3 866.6 L82.8 752.9 L84.2 717.8 L85.8 688.4 L87.5 665.7 L89.3 651.1 L90.2 646 L91.3 641.9 L92.4 639.8 L92.9 639.3 L93.6 639.1 L94.2 639.3 L95 640 L96.4 642.6 L98 646.8 L99.9 653.3 L103.1 666.1 L114.6 716.4 L118.9 733.1 L123.2 748.2 L127 760.2 L130.9 771.6 L134.9 781.7 L139 791.2 L144.2 801.7 L149.8 811.2 L155.6 819.8 L161.8 827.4 L168.5 834.2 L175.6 840.2 L183.2 845.4 L190.8 849.5 L198.4 852.9 L206 855.6 L214.3 857.9 L223.8 860 L233.9 861.6 L245.3 863 L258 864.1 L272.5 865 L303 865.9 L345.4 866.4 L554.5 866.6 M79.3 866.6 L79.6 864.9 L79.9 860.5 L80.6 845.3 L83.9 729.3 L85.8 680.1 L86.9 661.1 L88 648.6 L89.1 641.6 L89.8 639.7 L90.4 639.1 L90.7 639.2 L91.2 639.9 L92.1 642.8 L93.2 648.3 L94.3 655.4 L96.4 671.3 L103.2 728.5 L105.6 746.2 L108 762 L110.2 775.2 L112.4 786.8 L114.8 797.8 L117.2 807.2 L120.2 817.4 L123.5 826.7 L127 834.6 L130.8 841.4 L134.7 847 L139.2 851.8 L144.1 855.7 L149.5 858.9 L153.6 860.6 L158.2 862.1 L163.3 863.4 L168.8 864.3 L175 865.1 L181.9 865.6 L201 866.3 L250.4 866.6 L554.5 866.6 M79.3 866.6 L81.4 747.2 L82.9 686.2 L83.9 664.3 L84.8 650.5 L86 641.9 L86.6 639.7 L87.2 639.1 L87.9 639.7 L88.6 641.7 L90.5 650.4 L99.9 710.7 L103.1 728.8 L106.2 745 L109.6 759.9 L112.9 773 L116.4 785 L120 795.9 L124.3 806.9 L128.9 816.8 L133.8 825.6 L139 833.2 L144.6 839.8 L147.6 842.8 L150.6 845.5 L153.7 847.9 L157.1 850.2 L160.6 852.3 L164.2 854.2 L170.2 856.9 L176.9 859.1 L183.8 860.9 L191.4 862.4 L200.3 863.6 L209.8 864.6 L220.6 865.3 L233.3 865.8 L259.2 866.3 L297.9 866.5 L554.5 866.6 M79.3 866.6 L82.3 866.5 L84.1 866.2 L85.5 865.3 L86.7 863.8 L88 861.5 L89.3 858 L90.5 853.4 L91.8 847.5 L94.2 833 L96.7 813.3 L99.3 790.2 L106.9 716.4 L109.6 693.5 L111.9 676.4 L114.8 660 L116.2 653.6 L117.6 648.4 L119.1 644.4 L120.6 641.3 L122.1 639.7 L122.9 639.2 L123.7 639.1 L124.8 639.4 L125.9 640.2 L127 641.5 L128.2 643.6 L130.8 649.4 L133.6 657.9 L136 666.4 L138.7 676.9 L151.5 732 L158.3 758.9 L162.1 772.3 L165.8 784 L169.4 794.6 L173.2 804.4 L177.5 814 L181.9 822.6 L186.4 830 L190.8 836.1 L195.9 842 L201 846.8 L206.7 851.1 L212.4 854.5 L217.4 856.9 L223.1 859.1 L229.5 860.9 L236.4 862.4 L244 863.6 L252.9 864.6 L262.4 865.3 L273.8 865.8 L296.6 866.3 L330.2 866.5 L554.5 866.6 M79.3 866.6 L83.3 866.5 L85.5 866.2 L87.4 865.4 L89.1 863.9 L90.9 861.5 L92.4 858.4 L94 854.3 L95.6 849.2 L98.8 835.8 L102.1 817.8 L105.8 794.7 L113.4 742.1 L117 718.2 L121 695 L124.6 677 L126.8 667.8 L128.9 660.4 L131.1 653.8 L133.3 648.5 L135.5 644.4 L137.9 641.4 L139 640.4 L140.3 639.7 L141.4 639.3 L142.7 639.1 L144.4 639.4 L146.1 640.2 L147.9 641.5 L149.8 643.4 L151.7 645.8 L153.7 648.9 L158 656.6 L161.7 664.2 L165.8 673.7 L185.1 721.7 L195.2 745.2 L201 757.3 L206 767.2 L211.7 777.5 L217.4 786.9 L223.1 795.4 L229.5 803.9 L235.8 811.5 L242.1 818.2 L249.1 824.6 L256.1 830.3 L263.7 835.6 L271.3 840.1 L279.5 844.3 L288.4 848.1 L297.9 851.4 L307.4 854.2 L318.2 856.7 L329.6 858.8 L342.2 860.6 L356.2 862.1 L370.8 863.3 L386.6 864.2 L404.3 865 L424.6 865.5 L475.3 866.2 L554.5 866.5 M79.3 866.6 L82 866.2 L83.5 865.7 L84.9 864.7 L86.3 863 L88 860.4 L89.2 857.9 L92.6 848.4 L99.4 825.1 L107.2 796.1 L120.4 740.1 L127.9 711.3 L131.5 699.2 L134.1 691.4 L138.3 679.9 L142.6 669.2 L145.7 662.8 L149 657.3 L152.6 652.7 L156.4 649 L158.4 647.3 L162.4 644.6 L168 641.4 L169.7 640.6 L173 639.4 L177.7 638.7 L180.8 638.8 L185.9 639.4 L189.4 640.1 L193.1 641.2 L196.8 642.7 L200.8 644.7 L204.9 647.3 L208.9 650.2 L215.2 655.6 L245.6 682.7 L258.9 694.8 L271.6 706.8 L309 743.8 L333.5 769.1 L341.9 777.2 L350.8 784.7 L360.1 791.6 L369.7 798 L379.6 804 L389.9 809.6 L400.5 815 L406.1 817.5 L417.9 822.6 L430.1 827.2 L442.3 831.5 L454 835.3 L464.7 838.5 L474.6 841.1 L483.9 843.1 L507 847.3 L522.7 849.6 L554.5 853.4 M79.3 866.6 L79.9 866 L83.3 863.3 L84.3 862.2 L86.6 858.7 L87.7 856.1 L88.8 853 L91 844.7 L94.5 828.8 L102.6 788.7 L114.4 728.5 L117.6 714.2 L119.2 708.2 L122.3 697.6 L125.3 688.7 L129.6 677.5 L134.6 665.3 L137.7 658.7 L140.6 653.6 L147.6 642.8 L149.7 640.6 L150.8 639.8 L151.9 639.3 L153.1 639.1 L155.5 639.4 L158 640.6 L160.6 642.7 L163.8 645.9 L170 653.3 L175.3 660.2 L187.4 677.4 L196.5 691.4 L202.4 701.4 L220.4 734 L238 764.6 L242.7 772 L248 779 L251 782.4 L257.6 788.9 L261.1 792 L268.5 797.9 L280.3 805.9 L288.4 810.9 L296.4 815.4 L304.5 819.5 L313 823.3 L322.3 826.8 L332.7 830.2 L344.7 833.4 L357.8 836.3 L371.8 839 L386.2 841.5 L407.7 845 L422.3 847 L437.2 848.9 L460 851.4 L492.1 854.4 L554.5 858.6" fill="none" stroke="#7a7a7a" stroke-width="0.8"/>
<path d="M79.3 866.6 L89.1 866.6 L89.3 794.7 L89.8 754.7 L90.2 735.2 L90.9 717.9 L91.7 702.6 L92.6 689.3 L93.7 677.7 L95.1 666.8 L96.7 658 L98.5 651.1 L100.4 645.9 L101.5 643.7 L102.6 642.1 L103.7 640.8 L105 639.8 L106.2 639.3 L107.7 639.1 L109.1 639.3 L110.7 639.9 L112.4 641 L114.1 642.5 L116 644.4 L118.1 646.8 L122.5 652.9 L126.3 658.9 L130.6 666.2 L154.7 709.7 L161.7 721.8 L168.2 732.5 L175.6 744.2 L183.2 755.2 L190.2 764.7 L197.8 774.2 L205.4 783 L213.6 791.6 L221.9 799.5 L230.1 806.6 L239 813.4 L247.8 819.6 L257.3 825.4 L266.8 830.5 L277.6 835.6 L288.4 840 L299.8 844 L311.8 847.6 L324.5 850.8 L337.8 853.5 L352.4 856 L367.6 858.1 L383.4 859.9 L401.2 861.4 L420.2 862.7 L441.1 863.7 L463.9 864.6 L489.9 865.2 L519.7 865.7 L554.5 866.1" fill="none" stroke="#d9541e" stroke-width="4.4"/>
<rect x="79.3" y="637.5" width="474.6" height="231" fill="none" stroke="#000" stroke-width="1.6"/>
<path d="M237.7 637.5 v4 M237.7 868.5 v-4 M396.1 637.5 v4 M396.1 868.5 v-4" stroke="#000" stroke-width="1.6"/>
<rect x="306.3" y="651.8" width="40" height="4.6" fill="#d9541e"/>
<text x="357.3" y="662.7" font-size="20.98" style="fill:#d9541e">Best TF</text>
<rect x="306.3" y="681.6" width="40" height="3" fill="#808080"/>
<text x="358" y="689.4" font-size="20.93" style="fill:#808080">Other TFs</text>
<text x="45" y="649.6" font-size="27.50">1</text>
<text x="49.9" y="878.3" font-size="27.50">0</text>
<text x="72.6" y="902.5" font-size="27.50">0</text>
<text x="230.5" y="902.5" font-size="27.50">5</text>
<text x="383.4" y="902.5" font-size="27.50">10</text>
<text x="540.1" y="902.5" font-size="27.50">15</text>
<text x="267.5" y="940.1" font-size="27.61">Time (s)</text>
<text transform="translate(24.9 0) rotate(-90)" x="-856.1" y="0" font-size="29.44">Amplitude (a.u.)</text>
<text transform="translate(66.7 0) rotate(-90)" x="-1153.5" y="0" font-size="29.19">ΔF Ca<tspan dy="-14.6" font-size="14">2+</tspan><tspan dy="14.6"> (a.u.)</tspan></text>
<path d="M74.6 1134.8 L75.4 1127.8 L76.2 1127.3 L77 1119.8 L77.8 1129.2 L78.6 1128.2 L79.4 1127.6 L80.2 1130.7 L81 1131.2 L81.8 1126.1 L82.6 1126.8 L83.4 1128.4 L84.2 1132.5 L85 1132.2 L85.8 1125.7 L86.6 1126.4 L87.4 1133 L88.2 1136 L89 1130.5 L89.8 1128.3 L90.6 1134.6 L91.4 1129.8 L92.2 1133.5 L93 1136.4 L93.8 1133.3 L94.6 1131.4 L95.4 1133.8 L96.2 1129 L97 1130.3 L97.8 1128.6 L98.6 1129.6 L99.4 1128.3 L100.2 1129.1 L101 1128.1 L101.8 1129.4 L102.6 1129 L103.4 1129.6 L104.2 1133.1 L105 1122.5 L105.8 1132.2 L106.6 1126.6 L107.4 1123.4 L108.2 1127.3 L109 1128.5 L109.8 1132.1 L110.6 1124.9 L111.4 1129.6 L112.2 1129.5 L113 1123.4 L113.8 1125.4 L114.6 1131.8 L115.4 1132.4 L116.2 1133.8 L117 1131.9 L117.8 1131.4 L118.6 1130.4 L119.4 1134.2 L120.2 1127 L121 1129.5 L121.8 1131.3 L122.6 1124.5 L123.4 1134.6 L124.2 1127.2 L125 1125.7 L125.8 1125.5 L126.6 1107.5 L127.4 1096.7 L128.2 1077.6 L129 1051 L129.8 1036.8 L130.6 1039.1 L131.4 1035.8 L132.2 1033.6 L133 1031.8 L133.8 1039.4 L134.6 1037.9 L135.4 1035.8 L136.2 1027.6 L137 1028.2 L137.8 1020.1 L138.6 1037.1 L139.4 1018.3 L140.2 1036.1 L141 1041.6 L141.8 1020.1 L142.6 1021.5 L143.4 1023.7 L144.2 1034.3 L145 1023.8 L145.8 1030.3 L146.6 1029 L147.4 1032.3 L148.2 1044.3 L149 1029.4 L149.8 1037.4 L150.6 1039.6 L151.4 1044.5 L152.2 1030.5 L153 1047.9 L153.8 1043.9 L154.6 1047.7 L155.4 1041.6 L156.2 1029.1 L157 1035.6 L157.8 1045.3 L158.6 1039.4 L159.4 1038.3 L160.2 1050.7 L161 1053.1 L161.8 1037.6 L162.6 1051.6 L163.4 1024.2 L164.2 1024 L165 1044.6 L165.8 1036.8 L166.6 1042.9 L167.4 1042.6 L168.2 1038.4 L169 1043.8 L169.8 1040.1 L170.6 1028.3 L171.4 1040.5 L172.2 1040.3 L173 1051.8 L173.8 1031.1 L174.6 1039.1 L175.4 1036 L176.2 1038.1 L177 1050.6 L177.8 1041.7 L178.6 1035.7 L179.4 1040.1 L180.2 1044.4 L181 1034.5 L181.8 1043.6 L182.6 1059.8 L183.4 1060.4 L184.2 1062.7 L185 1068.4 L185.8 1078 L186.6 1077 L187.4 1095.4 L188.2 1098.4 L189 1099.6 L189.8 1094.2 L190.6 1098.7 L191.4 1106.3 L192.2 1106.6 L193 1104.6 L193.8 1110.4 L194.6 1112.2 L195.4 1104.4 L196.2 1104.9 L197 1103.1 L197.8 1101.6 L198.6 1110.6 L199.4 1109.1 L200.2 1108.1 L201 1100.7 L201.8 1100.9 L202.6 1105 L203.4 1103 L204.2 1105 L205 1100.9 L205.8 1106.6 L206.6 1111.3 L207.4 1109.8 L208.2 1110.3 L209 1104.5 L209.8 1109.2 L210.6 1104.6 L211.4 1111.2 L212.2 1106.6 L213 1107.1 L213.8 1107 L214.6 1113.2 L215.4 1112 L216.2 1112.1 L217 1107.1 L217.8 1113 L218.6 1106.9 L219.4 1119.6 L220.2 1113.5 L221 1115.5 L221.8 1115.5 L222.6 1110.7 L223.4 1112.8 L224.2 1119.4 L225 1126.7 L225.8 1117.4 L226.6 1119.5 L227.4 1122.3 L228.2 1115.9 L229 1116 L229.8 1121.3 L230.6 1122.9 L231.4 1121.7 L232.2 1129.6 L233 1122.9 L233.8 1125.2 L234.6 1130.3 L235.4 1130.9 L236.2 1117.9 L237 1122.9 L237.8 1129.2 L238.6 1119.2 L239.4 1121.1 L240.2 1119.6 L241 1119.4 L241.8 1120.3 L242.6 1125.5 L243.4 1129.9 L244.2 1130.9 L245 1124.8 L245.8 1116.9 L246.6 1124.6 L247.4 1123.4 L248.2 1126.2 L249 1124.3 L249.8 1117.6 L250.6 1126.5 L251.4 1116.5 L252.2 1122.1 L253 1126.1 L253.8 1126.4 L254.6 1131.3 L255.4 1115.7 L256.2 1126.6 L257 1128.1 L257.8 1124.1 L258.6 1128 L259.4 1121.1 L260.2 1128.2 L261 1127.9 L261.8 1121.9 L262.6 1123.2 L263.4 1125.2 L264.2 1123.4 L265 1130.3 L265.8 1126.6 L266.6 1131 L267.4 1130.3 L268.2 1125.7 L269 1124.5 L269.8 1121.4 L270.6 1121.8 L271.4 1121.6 L272.2 1126.1 L273 1121 L273.8 1124.7 L274.6 1125 L275.4 1122.1 L276.2 1123.1 L277 1129.5 L277.8 1130 L278.6 1120.5 L279.4 1123 L280.2 1122.4 L281 1123 L281.8 1130.4 L282.6 1127.1 L283.4 1129.6 L284.2 1131.8 L285 1123.1 L285.8 1124.3 L286.6 1125.4 L287.4 1129.5 L288.2 1125.2 L289 1128.3 L289.8 1130.5 L290.6 1130.7 L291.4 1127.8 L292.2 1122.7 L293 1119.5 L293.8 1130 L294.6 1127.2 L295.4 1121.5 L296.2 1123.1 L297 1123.1" fill="none" stroke="#4fbde9" stroke-width="3.9" stroke-linejoin="round"/>
<rect x="217.8" y="1016.8" width="4" height="53.2"/>
<text x="227.2" y="1055" font-size="30.69">20</text>
<text transform="translate(316.4 0) rotate(-90)" x="-1095.3" y="0" font-size="28.86">ΔRBC</text>
<text transform="translate(349.4 0) rotate(-90)" x="-1131.3" y="0" font-size="29.53">velocity (%)</text>
<path d="M343.2 1131.7 L344.4 1129.9 L345.6 1133.8 L346.8 1129 L348 1129.1 L349.2 1130.9 L350.4 1126.7 L351.6 1127.9 L352.8 1129.7 L354 1129.5 L355.2 1128.7 L356.4 1130.4 L357.6 1129.4 L358.8 1130.1 L360 1125.7 L361.2 1126.4 L362.4 1129 L363.6 1130.8 L364.8 1126 L366 1130 L367.2 1128 L368.4 1128.7 L369.6 1129.1 L370.8 1130.1 L372 1132.7 L373.2 1132.6 L374.4 1131.9 L375.6 1131.3 L376.8 1131.6 L378 1131.2 L379.2 1132.4 L380.4 1129.9 L381.6 1130.7 L382.8 1130.3 L384 1130.1 L385.2 1130.2 L386.4 1128.6 L387.6 1129 L388.8 1125.3 L390 1126.5 L391.2 1125.2 L392.4 1126.6 L393.6 1129.2 L394.8 1131.3 L396 1131.8 L397.2 1133.8 L398.4 1131.7 L399.6 1124.3 L400.8 1116.5 L402 1110.5 L403.2 1106.5 L404.4 1099 L405.6 1092.6 L406.8 1089.6 L408 1085.7 L409.2 1084.5 L410.4 1078.7 L411.6 1079.1 L412.8 1073.2 L414 1069 L415.2 1064.9 L416.4 1064.8 L417.6 1060.4 L418.8 1057.1 L420 1056.9 L421.2 1055.1 L422.4 1056 L423.6 1053 L424.8 1047.6 L426 1051.3 L427.2 1044.6 L428.4 1047.7 L429.6 1045.7 L430.8 1040.7 L432 1038.5 L433.2 1037.2 L434.4 1039.9 L435.6 1036.7 L436.8 1034.2 L438 1032.8 L439.2 1034.6 L440.4 1027.1 L441.6 1017.3 L442.8 1010.1 L444 1018.4 L445.2 1026.4 L446.4 1027.7 L447.6 1024.9 L448.8 1020.4 L450 1024.2 L451.2 1032.4 L452.4 1032.4 L453.6 1030.7 L454.8 1027.3 L456 1025.1 L457.2 1030 L458.4 1030.7 L459.6 1033.3 L460.8 1035.9 L462 1036.2 L463.2 1036.9 L464.4 1036.2 L465.6 1034.9 L466.8 1042 L468 1045.2 L469.2 1049.4 L470.4 1049.3 L471.6 1056.6 L472.8 1052.5 L474 1057.6 L475.2 1058.2 L476.4 1058.3 L477.6 1061.4 L478.8 1060.6 L480 1058.3 L481.2 1062.5 L482.4 1067.5 L483.6 1072.8 L484.8 1069.2 L486 1072.6 L487.2 1075.6 L488.4 1075 L489.6 1074.2 L490.8 1075.1 L492 1078.2 L493.2 1083.4 L494.4 1087.6 L495.6 1086.2 L496.8 1086.6 L498 1089.3 L499.2 1087.7 L500.4 1087.4 L501.6 1089.6 L502.8 1090.6 L504 1095.1 L505.2 1097.9 L506.4 1100.3 L507.6 1099.8 L508.8 1101.5 L510 1104.3 L511.2 1104.3 L512.4 1103.4 L513.6 1102.5 L514.8 1099.1 L516 1099.4 L517.2 1105.8 L518.4 1106.6 L519.6 1109.1 L520.8 1106.4 L522 1102.6 L523.2 1103.7 L524.4 1099 L525.6 1093.4 L526.8 1095.1 L528 1095.7 L529.2 1096.8 L530.4 1100.2 L531.6 1097.3 L532.8 1095.9 L534 1098.5 L535.2 1097.8 L536.4 1100.2 L537.6 1100.2 L538.8 1100.8 L540 1099.8 L541.2 1101.8 L542.4 1100.7 L543.6 1102.8 L544.8 1102 L546 1103.5 L547.2 1108.8 L548.4 1109.6 L549.6 1115.8 L550.8 1117 L552 1115.7 L553.2 1113 L554.4 1110.7 L555.6 1104.9 L556.8 1109.8 L558 1106.3 L559.2 1108.8 L560.4 1106 L561.6 1106.6 L562.8 1106.2 L564 1104.6" fill="none" stroke="#0070c0" stroke-width="4" stroke-linejoin="round"/>
<path d="M343 1130.2 L345.9 1130.2 L350 1130.2 L354.8 1130.1 L359.9 1130.1 L365.1 1130.1 L370 1130 L374.9 1130.2 L380.1 1130.7 L385.3 1131.2 L390.2 1131.3 L394.6 1130.9 L398 1129.4 L400.3 1126.7 L401.8 1123 L402.6 1118.6 L403.1 1114 L403.6 1109.5 L404.4 1105.5 L405.4 1102 L406.3 1098.6 L407.3 1095.3 L408.2 1092.2 L409.1 1089.1 L410 1086 L410.9 1083 L411.7 1080 L412.6 1077.1 L413.5 1074.3 L414.4 1071.6 L415.5 1068.9 L416.7 1066.3 L418 1063.8 L419.4 1061.4 L420.8 1059.1 L422.2 1056.8 L423.5 1054.5 L424.8 1052.3 L426 1050.1 L427.2 1048 L428.5 1045.9 L429.7 1043.9 L431 1042 L432.4 1040.2 L433.8 1038.4 L435.3 1036.8 L436.7 1035.2 L438.1 1033.7 L439.4 1032.2 L440.6 1030.8 L441.7 1029.5 L442.7 1028.3 L443.8 1027.2 L444.9 1026.1 L446 1025 L447.3 1023.9 L448.8 1022.8 L450.3 1021.8 L451.7 1020.8 L452.9 1020 L453.8 1019.4 L454.2 1020 L454.8 1020.7 L455.6 1021.6 L456.4 1022.7 L457.2 1023.8 L458 1025 L458.8 1026.2 L459.6 1027.4 L460.5 1028.7 L461.4 1030.1 L462.3 1031.8 L463.4 1033.8 L464.6 1036.3 L465.9 1039.2 L467.2 1042.3 L468.6 1045.5 L470 1048.6 L471.3 1051.3 L472.6 1053.7 L473.9 1055.9 L475.1 1058 L476.4 1060.1 L477.7 1062 L479 1064 L480.4 1066 L481.7 1067.9 L483.2 1069.8 L484.6 1071.6 L485.9 1073.4 L487.3 1075.2 L488.6 1076.9 L489.9 1078.6 L491.2 1080.2 L492.4 1081.8 L493.7 1083.4 L495 1085 L496.3 1086.6 L497.7 1088.2 L499.1 1089.8 L500.5 1091.4 L501.9 1092.9 L503.2 1094.4 L504.5 1095.8 L505.8 1097.1 L507.1 1098.4 L508.4 1099.6 L509.7 1100.8 L511 1102 L512.3 1103.2 L513.7 1104.4 L515.1 1105.6 L516.5 1106.7 L517.9 1107.7 L519.2 1108.7 L520.5 1109.6 L521.8 1110.3 L523.1 1111 L524.4 1111.7 L525.7 1112.3 L527 1113 L528.2 1113.7 L529.4 1114.3 L530.5 1114.9 L531.8 1115.5 L533.3 1116.1 L535.1 1116.7 L537.3 1117.3 L539.9 1117.8 L542.7 1118.4 L545.6 1118.9 L548.4 1119.4 L551 1119.9 L553.6 1120.4 L556.2 1120.8 L558.8 1121.3 L561.2 1121.7 L563.1 1122 L564.6 1122.3" fill="none" stroke="#d9541e" stroke-width="4.4" stroke-linejoin="round"/>
<rect x="500.3" y="1011.8" width="4.2" height="57.1"/>
<text x="507.3" y="1048.9" font-size="29.01">100 %</text>
<text x="651.4" y="627.5" font-size="42.00" font-weight="bold">d</text>
<rect x="1167.8" y="643.8" width="139.8" height="401.8" fill="#c6c7c7"/>
<line x1="748.5" y1="674.6" x2="1329.3" y2="674.6" stroke="#808080" stroke-width="3.6" stroke-dasharray="8.8 8.3"/>
<path d="M787.8 707.3 V772.3 M824.1 725.9 V825.6 M860.4 706.3 V784.1 M896.7 712.2 V851.5 M933 705.9 V810 M969.3 710.3 V786.5 M1005.6 703.4 V789 M1041.9 699.5 V792.9 M1078.2 699.5 V775.8 M1114.5 703.4 V787 M1150.8 701.5 V775.8 M1187.1 711.2 V797.3 M1223.4 698.5 V800.2 M1259.7 802.2 V957.6 M1296 697.5 V774.8" stroke="#4a3be0" stroke-width="1.6"/>
<rect x="779.3" y="678.5" width="17" height="17" fill="#000"/>
<rect x="779.3" y="732.3" width="17" height="17" fill="#4a3be0"/>
<circle cx="824.1" cy="700.6" r="6.1"/>
<circle cx="824.1" cy="775.4" r="5.9" fill="#4a3be0"/>
<circle cx="860.4" cy="723.4" r="6.1"/>
<circle cx="860.4" cy="745.1" r="5.9" fill="#4a3be0"/>
<circle cx="896.7" cy="760.5" r="6.1"/>
<circle cx="896.7" cy="781.6" r="5.9" fill="#4a3be0"/>
<circle cx="933" cy="706.1" r="6.1"/>
<circle cx="933" cy="755.6" r="5.9" fill="#4a3be0"/>
<circle cx="969.3" cy="727.2" r="6.1"/>
<circle cx="969.3" cy="748.2" r="5.9" fill="#4a3be0"/>
<circle cx="1005.6" cy="690.1" r="6.1"/>
<circle cx="1005.6" cy="745.1" r="5.9" fill="#4a3be0"/>
<circle cx="1041.9" cy="736.4" r="6.1"/>
<circle cx="1041.9" cy="745.7" r="5.9" fill="#4a3be0"/>
<circle cx="1078.2" cy="719.7" r="6.1"/>
<circle cx="1078.2" cy="737.1" r="5.9" fill="#4a3be0"/>
<circle cx="1114.5" cy="692.5" r="6.1"/>
<circle cx="1114.5" cy="745.1" r="5.9" fill="#4a3be0"/>
<circle cx="1150.8" cy="703.7" r="6.1"/>
<circle cx="1150.8" cy="738.3" r="5.9" fill="#4a3be0"/>
<circle cx="1187.1" cy="724.7" r="6.1"/>
<circle cx="1187.1" cy="754.4" r="5.9" fill="#4a3be0"/>
<circle cx="1223.4" cy="714.8" r="6.1"/>
<circle cx="1223.4" cy="748.8" r="5.9" fill="#4a3be0"/>
<circle cx="1259.7" cy="712.3" r="6.1"/>
<circle cx="1259.7" cy="879.9" r="5.9" fill="#4a3be0"/>
<circle cx="1296" cy="754.4" r="6.1"/>
<circle cx="1296" cy="736.4" r="5.9" fill="#4a3be0"/>
<rect x="748.5" y="643.8" width="580.8" height="401.8" fill="none" stroke="#000" stroke-width="1.6"/>
<path d="M784.8 643.8 v6 M784.8 1045.6 v-6 M821.1 643.8 v6 M821.1 1045.6 v-6 M857.4 643.8 v6 M857.4 1045.6 v-6 M893.7 643.8 v6 M893.7 1045.6 v-6 M930 643.8 v6 M930 1045.6 v-6 M966.3 643.8 v6 M966.3 1045.6 v-6 M1002.6 643.8 v6 M1002.6 1045.6 v-6 M1038.9 643.8 v6 M1038.9 1045.6 v-6 M1075.2 643.8 v6 M1075.2 1045.6 v-6 M1111.5 643.8 v6 M1111.5 1045.6 v-6 M1147.8 643.8 v6 M1147.8 1045.6 v-6 M1184.1 643.8 v6 M1184.1 1045.6 v-6 M1220.4 643.8 v6 M1220.4 1045.6 v-6 M1256.7 643.8 v6 M1256.7 1045.6 v-6 M1293 643.8 v6 M1293 1045.6 v-6 M748.5 921.9 h6 M1329.3 921.9 h-6 M748.5 798.3 h6 M1329.3 798.3 h-6" stroke="#000" stroke-width="1.6"/>
<text x="699.7" y="1055" font-size="26.80">0.4</text>
<text x="699.9" y="931.3" font-size="26.80">0.6</text>
<text x="699.9" y="807.7" font-size="26.80">0.8</text>
<text x="722.4" y="684" font-size="26.80">1</text>
<text x="776.9" y="1076.7" font-size="26.80">1</text>
<text x="813.6" y="1076.7" font-size="26.80">2</text>
<text x="850" y="1076.7" font-size="26.80">3</text>
<text x="886.3" y="1076.7" font-size="26.80">4</text>
<text x="922.6" y="1076.7" font-size="26.80">5</text>
<text x="958.8" y="1076.7" font-size="26.80">6</text>
<text x="995.1" y="1076.7" font-size="26.80">7</text>
<text x="1031.5" y="1076.7" font-size="26.80">8</text>
<text x="1067.7" y="1076.7" font-size="26.80">9</text>
<text x="1096.1" y="1076.7" font-size="26.80">10</text>
<text x="1133.5" y="1076.7" font-size="26.80">11</text>
<text x="1168.8" y="1076.7" font-size="26.80">12</text>
<text x="1205" y="1076.7" font-size="26.80">13</text>
<text x="1241.2" y="1076.7" font-size="26.80">14</text>
<text x="1277.6" y="1076.7" font-size="26.80">15</text>
<text x="980.6" y="1115.2" font-size="29.76">Mouse #</text>
<text transform="translate(677 0) rotate(-90)" x="-970.6" y="0" font-size="29.56">Pearson coefficient</text>
<text x="1383.4" y="628" font-size="42.00" font-weight="bold">e</text>
<rect x="1480.7" y="629.1" width="48.8" height="147.5" fill="#f8e6d4"/>
<rect x="1480.7" y="787.9" width="48.8" height="140.1" fill="#f8e6d4"/>
<rect x="1480.7" y="942.7" width="48.8" height="151.5" fill="#f8e6d4"/>
<rect x="1794.3" y="627.8" width="50.4" height="148.9" fill="#f8e6d4"/>
<rect x="1794.3" y="787.3" width="50.4" height="141.6" fill="#f8e6d4"/>
<rect x="1794.3" y="941.9" width="50.4" height="151.7" fill="#f8e6d4"/>
<path d="M1429.2 753.8 L1430 753.3 L1430.8 756.4 L1431.6 749.2 L1432.4 754.9 L1433.2 747.1 L1434 751.3 L1434.8 750.9 L1435.6 754.6 L1436.4 750.8 L1437.2 748.7 L1438 754.3 L1438.8 754.7 L1439.6 748.6 L1440.4 753.7 L1441.2 751.2 L1442 754 L1442.8 755.3 L1443.6 751.6 L1444.4 756.6 L1445.2 754.2 L1446 754.2 L1446.8 752.1 L1447.6 743.8 L1448.4 741.7 L1449.2 743.1 L1450 740.6 L1450.8 743.7 L1451.6 742.1 L1452.4 748 L1453.2 753.1 L1454 754.3 L1454.8 749 L1455.6 749.7 L1456.4 753.7 L1457.2 753.6 L1458 747.3 L1458.8 747.7 L1459.6 741.6 L1460.4 737 L1461.2 732.7 L1462 728 L1462.8 729.1 L1463.6 741.4 L1464.4 744.2 L1465.2 745.3 L1466 747.3 L1466.8 746.2 L1467.6 752 L1468.4 747.5 L1469.2 751.9 L1470 756.4 L1470.8 757 L1471.6 757 L1472.4 751.8 L1473.2 757.6 L1474 754.9 L1474.8 759.3 L1475.6 754.5 L1476.4 760.3 L1477.2 756.5 L1478 757.5 L1478.8 754.1 L1479.6 754.1 L1480.4 754.1 L1481.2 740.6 L1482 715 L1482.8 695.1 L1483.6 681.1 L1484.4 664.8 L1485.2 652.1 L1486 647.7 L1486.8 633.6 L1487.6 629.8 L1488.4 640.5 L1489.2 658.5 L1490 659.7 L1490.8 669.5 L1491.6 658.7 L1492.4 653.3 L1493.2 666.7 L1494 653.2 L1494.8 643.6 L1495.6 668.6 L1496.4 674.9 L1497.2 674.4 L1498 680.7 L1498.8 675.6 L1499.6 673.1 L1500.4 663.6 L1501.2 670.5 L1502 663.5 L1502.8 669.4 L1503.6 684.9 L1504.4 672.7 L1505.2 673.5 L1506 665.6 L1506.8 688.3 L1507.6 655.8 L1508.4 663.1 L1509.2 676.8 L1510 665.5 L1510.8 665.8 L1511.6 675.5 L1512.4 677.8 L1513.2 677.9 L1514 667.2 L1514.8 677.7 L1515.6 663.2 L1516.4 664.4 L1517.2 663.1 L1518 671.6 L1518.8 666 L1519.6 661.5 L1520.4 668.8 L1521.2 661.8 L1522 665.8 L1522.8 667.6 L1523.6 666.2 L1524.4 663.6 L1525.2 661.8 L1526 677.8 L1526.8 655.1 L1527.6 671.2 L1528.4 663 L1529.2 663.2 L1530 655.2 L1530.8 667 L1531.6 662.8 L1532.4 677.1 L1533.2 669.8 L1534 670.3 L1534.8 673.1 L1535.6 689.8 L1536.4 689.2 L1537.2 685.4 L1538 700.2 L1538.8 693.7 L1539.6 694.3 L1540.4 703 L1541.2 697.7 L1542 707 L1542.8 701.9 L1543.6 712.7 L1544.4 714.5 L1545.2 712.3 L1546 719.2 L1546.8 710.6 L1547.6 717 L1548.4 714 L1549.2 709.4 L1550 718.8 L1550.8 725.5 L1551.6 733.8 L1552.4 721.7 L1553.2 725.4 L1554 732.7 L1554.8 721 L1555.6 733.3 L1556.4 719.9 L1557.2 723 L1558 727.9 L1558.8 728 L1559.6 734.8 L1560.4 728.6 L1561.2 734.9 L1562 736.4 L1562.8 739.6 L1563.6 741.9 L1564.4 743.5 L1565.2 741.5 L1566 742.1 L1566.8 741.2 L1567.6 735.2 L1568.4 734.5 L1569.2 743.6 L1570 737.1 L1570.8 739.9 L1571.6 744.4 L1572.4 742.6 L1573.2 741.3 L1574 741.4 L1574.8 745.5 L1575.6 751.7 L1576.4 739.7 L1577.2 745.9 L1578 750.9 L1578.8 748.3 L1579.6 745.1 L1580.4 747.7 L1581.2 749.3 L1582 751.9 L1582.8 741.8 L1583.6 744.9 L1584.4 749.5 L1585.2 750.2 L1586 749.7 L1586.8 750.5 L1587.6 752.5 L1588.4 751 L1589.2 759.3 L1590 746.9 L1590.8 748.3 L1591.6 744.3 L1592.4 752.3 L1593.2 751.1 L1594 749.7 L1594.8 746.1 L1595.6 758.2 L1596.4 752.4 L1597.2 754.1 L1598 746 L1598.8 752.6 L1599.6 753.4 L1600.4 758.2 L1601.2 754 L1602 756 L1602.8 746.2 L1603.6 751.5 L1604.4 752.8 L1605.2 752.2 L1606 751.4 L1606.8 751.2 L1607.6 757.2 L1608.4 750.6 L1609.2 754.8 L1610 754.6 L1610.8 750.5 L1611.6 752.3 L1612.4 742.8 L1613.2 749.3 L1614 755.5 L1614.8 749 L1615.6 743.6 L1616.4 754.7 L1617.2 746.2 L1618 755.9 L1618.8 750.6 L1619.6 745.9 L1620.4 748 L1621.2 756.2 L1622 751 L1622.8 749.9 L1623.6 750.7 L1624.4 749.4 L1625.2 747.5 L1626 752.1 L1626.8 755.6 L1627.6 750.9 L1628.4 756.8 L1629.2 755.4 L1630 746.3 L1630.8 754.7 L1631.6 757.4 L1632.4 745.7 L1633.2 751.3 L1634 755.4 L1634.8 750.9 L1635.6 754.5 L1636.4 753.7 L1637.2 751.8 L1638 755 L1638.8 754.3 L1639.6 756 L1640.4 756 L1641.2 753.4 L1642 752.7 L1642.8 753.1 L1643.6 756.8 L1644.4 751.2 L1645.2 759.3 L1646 751.1 L1646.8 760.7 L1647.6 752.9 L1648.4 751.8 L1649.2 751.3 L1650 754.6 L1650.8 753.3 L1651.6 749.3 L1652.4 752.9" fill="none" stroke="#4fbde9" stroke-width="3.6" stroke-linejoin="round"/>
<path d="M1430.5 915.2 L1431.5 913 L1432.5 913 L1433.5 913.1 L1434.5 910.8 L1435.5 910.3 L1436.5 912 L1437.5 912.4 L1438.5 912.7 L1439.5 913.6 L1440.5 913.6 L1441.5 914.4 L1442.5 915.4 L1443.5 916.7 L1444.5 915.8 L1445.5 916.5 L1446.5 918 L1447.5 917.6 L1448.5 917.9 L1449.5 915.4 L1450.5 915.3 L1451.5 914.8 L1452.5 912.3 L1453.5 913.6 L1454.5 914.7 L1455.5 914.5 L1456.5 913.6 L1457.5 913.4 L1458.5 912.3 L1459.5 911.9 L1460.5 915 L1461.5 913 L1462.5 910.7 L1463.5 912.8 L1464.5 912.4 L1465.5 912.4 L1466.5 913.3 L1467.5 913.3 L1468.5 913.2 L1469.5 912.6 L1470.5 913.2 L1471.5 913.7 L1472.5 912.3 L1473.5 914.7 L1474.5 915 L1475.5 912.6 L1476.5 911.3 L1477.5 911.9 L1478.5 912.4 L1479.5 911.3 L1480.5 912.6 L1481.5 914.7 L1482.5 914.4 L1483.5 915.4 L1484.5 917.4 L1485.5 917.9 L1486.5 905.3 L1487.5 882.1 L1488.5 853.8 L1489.5 820.1 L1490.5 797.6 L1491.5 795.5 L1492.5 793.9 L1493.5 796.3 L1494.5 794.8 L1495.5 793.4 L1496.5 797.1 L1497.5 799.6 L1498.5 802.3 L1499.5 804.8 L1500.5 807.1 L1501.5 808.4 L1502.5 808.6 L1503.5 807.4 L1504.5 807.7 L1505.5 807 L1506.5 806.2 L1507.5 806.7 L1508.5 806.7 L1509.5 808.4 L1510.5 811.6 L1511.5 814.9 L1512.5 817.2 L1513.5 817 L1514.5 815.1 L1515.5 814.1 L1516.5 815.6 L1517.5 816.2 L1518.5 816.5 L1519.5 815.2 L1520.5 815 L1521.5 813.7 L1522.5 813 L1523.5 816 L1524.5 816.7 L1525.5 818 L1526.5 818.7 L1527.5 818.6 L1528.5 820 L1529.5 819.6 L1530.5 820.5 L1531.5 820.9 L1532.5 820.3 L1533.5 821.2 L1534.5 820.6 L1535.5 820.7 L1536.5 819.6 L1537.5 816.1 L1538.5 814.8 L1539.5 815 L1540.5 814.7 L1541.5 818.1 L1542.5 822 L1543.5 829.5 L1544.5 834 L1545.5 835.9 L1546.5 840.2 L1547.5 844.4 L1548.5 846.5 L1549.5 846.9 L1550.5 850.7 L1551.5 852.6 L1552.5 852.9 L1553.5 854 L1554.5 857.6 L1555.5 860.1 L1556.5 862.3 L1557.5 865 L1558.5 866.8 L1559.5 868.3 L1560.5 867.4 L1561.5 868.5 L1562.5 870.6 L1563.5 873.9 L1564.5 875.7 L1565.5 875.6 L1566.5 876.8 L1567.5 877.1 L1568.5 878.2 L1569.5 880.6 L1570.5 883.8 L1571.5 882.4 L1572.5 881.9 L1573.5 883.9 L1574.5 884.9 L1575.5 884.1 L1576.5 884.5 L1577.5 884.2 L1578.5 883.4 L1579.5 884.3 L1580.5 884.1 L1581.5 885.7 L1582.5 887.4 L1583.5 890.2 L1584.5 890.9 L1585.5 889 L1586.5 891.2 L1587.5 893.3 L1588.5 893.1 L1589.5 895.7 L1590.5 899.1 L1591.5 898.4 L1592.5 898.6 L1593.5 902.7 L1594.5 903.7 L1595.5 904.8 L1596.5 906 L1597.5 905.5 L1598.5 906.4 L1599.5 905.7 L1600.5 906.1 L1601.5 907 L1602.5 907.4 L1603.5 909.6 L1604.5 911.1 L1605.5 910.5 L1606.5 910.5 L1607.5 912.3 L1608.5 912.3 L1609.5 911 L1610.5 911.9 L1611.5 912.1 L1612.5 910.7 L1613.5 913.1 L1614.5 913.5 L1615.5 912.3 L1616.5 913.9 L1617.5 913.8 L1618.5 915.3 L1619.5 917.5 L1620.5 916.2 L1621.5 913.2 L1622.5 913.2 L1623.5 913 L1624.5 913.2 L1625.5 915.4 L1626.5 915.2 L1627.5 915.5 L1628.5 915.4 L1629.5 913.5 L1630.5 913 L1631.5 914.7 L1632.5 913.2 L1633.5 912.9 L1634.5 914.7 L1635.5 917.4 L1636.5 918.2 L1637.5 915.2 L1638.5 918.3 L1639.5 920.7 L1640.5 918.9 L1641.5 917.7 L1642.5 916.8 L1643.5 916.5 L1644.5 918.1 L1645.5 918.2 L1646.5 917.2 L1647.5 916.1 L1648.5 917.1 L1649.5 920 L1650.5 921 L1651.5 919" fill="none" stroke="#4fbde9" stroke-width="3.9" stroke-linejoin="round"/>
<path d="M1430.5 1094.9 L1431.5 1083.2 L1432.5 1060.1 L1433.5 1055.4 L1434.5 1062.6 L1435.5 1050.5 L1436.5 1045.6 L1437.5 1048.3 L1438.5 1044.3 L1439.5 1064.8 L1440.5 1066.7 L1441.5 1052.3 L1442.5 1051.8 L1443.5 1044.4 L1444.5 1034.2 L1445.5 1026.2 L1446.5 1038.2 L1447.5 1055.2 L1448.5 1037.9 L1449.5 1022.2 L1450.5 1039 L1451.5 1062.1 L1452.5 1075.6 L1453.5 1075 L1454.5 1072.3 L1455.5 1058.1 L1456.5 1054.8 L1457.5 1071.7 L1458.5 1073.7 L1459.5 1053.9 L1460.5 1063.8 L1461.5 1077.3 L1462.5 1072.4 L1463.5 1084.5 L1464.5 1075 L1465.5 1054.8 L1466.5 1040 L1467.5 1045.5 L1468.5 1068.8 L1469.5 1066.4 L1470.5 1060.8 L1471.5 1067.3 L1472.5 1069.5 L1473.5 1064.4 L1474.5 1060.7 L1475.5 1057.4 L1476.5 1066.2 L1477.5 1066 L1478.5 1054.8 L1479.5 1051.4 L1480.5 1054 L1481.5 1052.6 L1482.5 1050.5 L1483.5 1042.9 L1484.5 1029.3 L1485.5 1010.4 L1486.5 1012.8 L1487.5 1012.9 L1488.5 1001.8 L1489.5 1013.9 L1490.5 1012.8 L1491.5 994.5 L1492.5 995.3 L1493.5 996.9 L1494.5 985.4 L1495.5 996.7 L1496.5 1005.3 L1497.5 1019.9 L1498.5 1005.8 L1499.5 980.7 L1500.5 992 L1501.5 1005.6 L1502.5 1004 L1503.5 1009.9 L1504.5 1016.9 L1505.5 1002.5 L1506.5 1001.1 L1507.5 1007.5 L1508.5 1008.8 L1509.5 1005.5 L1510.5 1005.9 L1511.5 1020.1 L1512.5 1031.1 L1513.5 1040.8 L1514.5 1029.9 L1515.5 1009.5 L1516.5 1034.9 L1517.5 1048.5 L1518.5 1037.7 L1519.5 1030.5 L1520.5 1032.9 L1521.5 1042.5 L1522.5 1041.9 L1523.5 1052.7 L1524.5 1048.2 L1525.5 1042.2 L1526.5 1036.8 L1527.5 1040.9 L1528.5 1043.8 L1529.5 1051.9 L1530.5 1047.4 L1531.5 1043.5 L1532.5 1044.9 L1533.5 1017.5 L1534.5 1023.7 L1535.5 1035.9 L1536.5 1024.8 L1537.5 1011.2 L1538.5 998 L1539.5 1003.2 L1540.5 1023.7 L1541.5 1011.5 L1542.5 1010.8 L1543.5 1040.1 L1544.5 1026.3 L1545.5 1019.3 L1546.5 1038.3 L1547.5 1031 L1548.5 1031.9 L1549.5 1030.9 L1550.5 1034.6 L1551.5 1058.5 L1552.5 1055 L1553.5 1031.5 L1554.5 1011.5 L1555.5 1023.8 L1556.5 1047 L1557.5 1021.5 L1558.5 1005.6 L1559.5 1014.3 L1560.5 1029.8 L1561.5 1023.8 L1562.5 1024.1 L1563.5 1024.3 L1564.5 1026.4 L1565.5 1040.1 L1566.5 1047.2 L1567.5 1059.2 L1568.5 1046.3 L1569.5 1038.2 L1570.5 1035.7 L1571.5 1053.8 L1572.5 1070.4 L1573.5 1051.6 L1574.5 1031.9 L1575.5 1039.5 L1576.5 1049 L1577.5 1040.3 L1578.5 1042.1 L1579.5 1052.1 L1580.5 1052 L1581.5 1052.6 L1582.5 1053.8 L1583.5 1052.1 L1584.5 1048.9 L1585.5 1054 L1586.5 1060.4 L1587.5 1052.8 L1588.5 1054.1 L1589.5 1055.7 L1590.5 1053.7 L1591.5 1060.6 L1592.5 1069.3 L1593.5 1053.1 L1594.5 1045.3 L1595.5 1059.1 L1596.5 1052.4 L1597.5 1055.6 L1598.5 1063 L1599.5 1055.9 L1600.5 1044.5 L1601.5 1038 L1602.5 1052.9 L1603.5 1078.6 L1604.5 1075.2 L1605.5 1044.5 L1606.5 1054.9 L1607.5 1070 L1608.5 1067 L1609.5 1058.3 L1610.5 1053.4 L1611.5 1058.5 L1612.5 1039.6 L1613.5 1031.6 L1614.5 1039.8 L1615.5 1033.2 L1616.5 1040 L1617.5 1045.9 L1618.5 1045.6 L1619.5 1049 L1620.5 1049.3 L1621.5 1057.7 L1622.5 1040 L1623.5 1035.8 L1624.5 1058.5 L1625.5 1059.9 L1626.5 1067.6 L1627.5 1081.4 L1628.5 1064.6 L1629.5 1056.8 L1630.5 1068.3 L1631.5 1062.7 L1632.5 1072.4 L1633.5 1083.7 L1634.5 1070.1 L1635.5 1056.6 L1636.5 1048 L1637.5 1047 L1638.5 1058.5 L1639.5 1056.3 L1640.5 1055.9 L1641.5 1079.5 L1642.5 1060.8 L1643.5 1036.4 L1644.5 1056.2 L1645.5 1065.8 L1646.5 1052.8 L1647.5 1052.6 L1648.5 1061.5 L1649.5 1070.2 L1650.5 1066.2 L1651.5 1060.8" fill="none" stroke="#4fbde9" stroke-width="3" stroke-linejoin="round"/>
<rect x="1576.8" y="666" width="4" height="49.8"/>
<text x="1586.4" y="702" font-size="29.00">50</text>
<rect x="1576.8" y="812" width="4" height="42.7"/>
<text x="1586.1" y="845.7" font-size="29.00">20</text>
<rect x="1576.8" y="956.4" width="4" height="52.9"/>
<text x="1586.1" y="993.9" font-size="29.00">20</text>
<text transform="translate(1412.1 0) rotate(-90)" x="-1103.3" y="0" font-size="29.66">ΔF Ca<tspan dy="-14.8" font-size="14.2">2+</tspan><tspan dy="14.8"> (a.u.)</tspan></text>
<path d="M1747.6 773.9 L1750.4 747.6 L1753.9 764.2 L1757.3 744.8 L1761.5 758.6 L1765 739.2 L1769.8 733 L1773.3 757.3 L1776.7 737.2 L1780.2 747.6 L1784.4 756.6 L1787.8 749.6 L1791.3 757.3 L1794.8 745.5 L1798.2 766.3 L1802.4 753.1 L1807.9 755.2 L1812.1 737.9 L1817 717.1 L1821.8 714.3 L1825.3 707.3 L1828 682.4 L1831.5 701.8 L1837.1 686.6 L1842.6 693.5 L1845.4 699 L1847.5 649.1 L1849.5 669.9 L1853 656 L1856.5 683.8 L1860.6 647 L1866.2 679.6 L1871.7 660.2 L1874.5 672.7 L1878 659.5 L1883.5 687.9 L1887.7 672.7 L1893.9 697.6 L1898.1 708.7 L1903.6 722.6 L1907.8 708.7 L1914.7 707.3 L1920.2 718.4 L1925.8 730.9 L1931.3 729.5 L1936.9 737.9 L1941 728.1 L1948 732.3 L1953.5 742 L1959.1 735.1 L1964.6 726.8 L1967.4 742 L1970.8 739.2" fill="none" stroke="#0070c0" stroke-width="4.3" stroke-linejoin="round"/>
<path d="M1749 750.3 L1752 750.6 L1756.3 751 L1761.2 751.4 L1766.2 751.7 L1770.5 751.7 L1774.1 751.3 L1777.5 750.6 L1780.7 749.9 L1783.9 749.2 L1787.1 748.9 L1790.5 749.4 L1794 750.5 L1797.4 751.5 L1800.5 751.9 L1803.1 751 L1805 748.3 L1806.3 744.4 L1807.3 739.8 L1808.3 735.1 L1809.3 730.9 L1810.4 727.3 L1811.5 723.9 L1812.5 720.7 L1813.6 717.5 L1814.9 714.3 L1816.3 711.2 L1817.9 708.1 L1819.5 705.2 L1821.3 702.1 L1823.2 699 L1825.2 695.6 L1827.4 692 L1829.7 688.4 L1832 685.1 L1834.3 682.4 L1836.5 680.4 L1838.7 678.9 L1841 677.8 L1843.2 676.7 L1845.4 675.5 L1847.7 674 L1850.1 672.3 L1852.5 670.6 L1854.6 669.3 L1856.5 668.5 L1857.9 668.2 L1858.9 668.4 L1859.8 668.8 L1860.7 669.6 L1862 670.6 L1863.6 671.8 L1865.4 673.3 L1867.3 675 L1869.4 677.1 L1871.7 679.6 L1874.2 682.6 L1877 686.1 L1879.8 689.9 L1882.8 693.8 L1885.6 697.6 L1888.4 701.5 L1891.1 705.6 L1893.9 709.7 L1896.6 713.6 L1899.4 717.1 L1902.2 720.1 L1905.1 722.8 L1907.9 725.2 L1910.7 727.4 L1913.3 729.5 L1915.6 731.4 L1917.5 733.2 L1919.5 734.8 L1921.7 736.3 L1924.4 737.9 L1927.6 739.5 L1931.2 741.1 L1935.1 742.7 L1939.3 744.2 L1943.8 745.5 L1949.1 746.7 L1955.1 747.9 L1961.2 748.9 L1966.5 749.7 L1970.2 750.3" fill="none" stroke="#d9541e" stroke-width="4.2" stroke-linejoin="round"/>
<path d="M1748.3 911.7 L1752.5 906.9 L1760.8 925.6 L1765 918.6 L1769.1 910.3 L1774.7 899.2 L1778.8 911.7 L1783 895.1 L1785.8 915.2 L1791.3 906.9 L1796.8 916.6 L1799.6 902 L1804.5 921.4 L1811.4 925.6 L1815.6 918.6 L1820.4 890.9 L1823.2 877.1 L1828 870.1 L1831.5 849.3 L1835.7 825.8 L1837.7 798.7 L1839.8 845.2 L1842.6 816 L1846.8 832.7 L1850.2 834.8 L1853 821.6 L1857.9 834.1 L1863.4 807 L1870.3 827.8 L1876.6 816.7 L1881.4 845.2 L1888.4 833.4 L1891.8 852.1 L1896.7 840.3 L1902.2 885.4 L1908.5 843.8 L1918.2 890.9 L1920.2 861.8 L1925.8 895.1 L1930.6 843.8 L1936.9 854.9 L1943.8 897.9 L1946.6 879.8 L1951.4 889.5 L1955.6 871.5 L1959.1 890.9 L1964.6 859.7 L1968.1 870.1 L1971.5 863.9" fill="none" stroke="#0070c0" stroke-width="4.3" stroke-linejoin="round"/>
<path d="M1749 911 L1752.4 911.2 L1757 911.6 L1762.5 911.9 L1768.6 912.2 L1774.7 912.4 L1781.5 912.8 L1789.2 913.4 L1796.9 913.7 L1803.9 913.3 L1809.3 911.7 L1812.6 908.5 L1814.5 904 L1815.5 898.7 L1816.4 893.3 L1817.6 888.1 L1819.2 883.2 L1820.8 878.2 L1822.4 873.1 L1824.1 868.1 L1826 863.2 L1828 858.2 L1830.3 853.1 L1832.5 848.2 L1834.8 843.6 L1837.1 839.6 L1839.2 836.4 L1841.2 833.7 L1843.3 831.4 L1845.5 829.3 L1848.1 827.1 L1851.2 824.6 L1854.6 822.1 L1858.2 819.7 L1861.7 817.8 L1864.8 816.7 L1867.3 816.5 L1869.4 816.9 L1871.3 817.9 L1873.4 819.4 L1875.9 821.6 L1878.8 824.5 L1881.9 828.1 L1885.3 832.2 L1888.8 836.6 L1892.5 841 L1896.4 845.5 L1900.5 850.2 L1904.8 855.1 L1909.1 859.9 L1913.3 864.6 L1917.6 869.3 L1922 874.1 L1926.3 878.8 L1930.4 883.1 L1934.1 886.8 L1937.2 889.7 L1939.8 892 L1942.2 894 L1944.8 895.9 L1948 897.9 L1952.3 900.3 L1957.3 902.8 L1962.5 905.3 L1967 907.4 L1970.2 908.9" fill="none" stroke="#d9541e" stroke-width="4.2" stroke-linejoin="round"/>
<path d="M1748.3 1055.1 L1753.9 1031.5 L1760.1 1078 L1765.6 1074.5 L1769.8 1049.5 L1773.3 1073.1 L1778.8 1062 L1780.2 1071.7 L1784.4 1062 L1789.2 1053.7 L1794.1 1048.1 L1798.2 1066.2 L1803.8 1057.9 L1809.3 1049.5 L1813.5 1035.7 L1818.3 999.6 L1821.8 1026 L1823.2 1002.4 L1828.7 1028.7 L1834.3 958 L1837.1 1009.3 L1842.6 956.6 L1845.4 998.2 L1849.5 950.4 L1853.7 980.2 L1857.9 968.4 L1862 985.8 L1866.9 951.8 L1871.7 999.6 L1875.2 960.8 L1878.6 1001 L1888.4 1020.4 L1895.3 1010.7 L1900.8 1027.3 L1905.7 1002.4 L1909.8 1044 L1914 1016.3 L1920.2 1048.1 L1925.1 1023.2 L1929.9 1050.9 L1935.5 1019 L1941 1037.1 L1948 1063.4 L1952.1 1048.1 L1958.4 1023.2 L1963.2 1062 L1970.2 1066.2" fill="none" stroke="#0070c0" stroke-width="4.3" stroke-linejoin="round"/>
<path d="M1749.7 1062 L1750.2 1062.6 L1750.9 1063.3 L1751.7 1064.2 L1752.7 1065.2 L1753.9 1066.2 L1755.3 1067.5 L1756.9 1069.1 L1758.7 1070.6 L1760.5 1071.6 L1762.2 1071.7 L1763.9 1070.4 L1765.6 1068.1 L1767.3 1065.3 L1768.9 1062.6 L1770.5 1060.6 L1771.9 1059.2 L1773.3 1057.9 L1774.6 1057 L1775.9 1056.5 L1777.4 1056.5 L1779 1057.2 L1780.7 1058.5 L1782.5 1060.2 L1784.2 1061.9 L1785.8 1063.4 L1787.2 1064.6 L1788.5 1065.8 L1789.8 1066.9 L1791.1 1067.9 L1792.7 1068.9 L1794.6 1070.1 L1796.8 1071.5 L1799.1 1072.7 L1801.2 1073.3 L1803.1 1073.1 L1804.6 1071.8 L1805.9 1069.8 L1807.1 1067.2 L1808.2 1064.1 L1809.3 1060.6 L1810.5 1056.6 L1811.7 1051.9 L1812.8 1046.9 L1813.9 1041.9 L1814.9 1037.1 L1815.8 1032.6 L1816.6 1028.1 L1817.3 1023.7 L1818.1 1019.3 L1819 1014.9 L1820 1010.2 L1821.1 1005.4 L1822.3 1000.6 L1823.5 996.3 L1824.6 992.7 L1825.7 990.2 L1826.8 988.4 L1827.9 987.1 L1829 985.8 L1830.1 984.4 L1831.2 982.6 L1832.3 980.7 L1833.4 978.8 L1834.5 977.2 L1835.7 976 L1837 975.3 L1838.4 975.1 L1839.9 975.1 L1841.3 975.2 L1842.6 975.4 L1843.8 975.5 L1844.9 975.6 L1846 975.9 L1847 976.5 L1848.1 977.4 L1849.2 978.9 L1850.3 980.9 L1851.5 983.1 L1852.6 985.3 L1853.7 987.1 L1854.8 988.7 L1855.8 990.3 L1856.8 991.6 L1857.9 992.7 L1859.2 993.4 L1860.7 993.4 L1862.4 992.7 L1864.1 991.8 L1865.9 991.2 L1867.6 991.3 L1869.3 992.6 L1870.9 994.7 L1872.6 997 L1874.2 998.8 L1875.9 999.6 L1877.6 998.7 L1879.2 996.5 L1880.9 994 L1882.5 992 L1884.2 991.3 L1885.9 992.4 L1887.6 994.7 L1889.3 997.5 L1890.9 1000.3 L1892.5 1002.4 L1893.9 1003.6 L1895.2 1004.2 L1896.4 1004.7 L1897.8 1005.3 L1899.4 1006.6 L1901.3 1008.4 L1903.5 1010.6 L1905.8 1013 L1908.1 1015.9 L1910.5 1019 L1913 1022.7 L1915.6 1027 L1918.2 1031.5 L1920.7 1035.9 L1923 1039.8 L1924.9 1043.6 L1926.6 1047.4 L1928.1 1050.9 L1929.6 1053.6 L1931.3 1055.1 L1933.2 1054.8 L1935.1 1052.9 L1937.1 1050.4 L1939 1048 L1941 1046.8 L1943 1046.8 L1945.1 1047.4 L1947.1 1048.5 L1949 1049.7 L1950.7 1050.9 L1952.1 1052.1 L1953.2 1053.4 L1954.2 1054.8 L1955.2 1056.3 L1956.3 1057.9 L1957.6 1059.8 L1959 1062.1 L1960.4 1064.4 L1961.8 1066.3 L1963.2 1067.6 L1964.7 1068 L1966.3 1067.8 L1967.9 1067.2 L1969.2 1066.6 L1970.2 1066.2" fill="none" stroke="#d9541e" stroke-width="4.2" stroke-linejoin="round"/>
<rect x="1901.2" y="653.3" width="4.4" height="44.8"/>
<text x="1913.8" y="688.8" font-size="29.41">50 %</text>
<text x="1878.4" y="639.5" font-size="29.12">Mouse #2</text>
<rect x="1901.2" y="806.5" width="4.4" height="29.7"/>
<text x="1913.5" y="831.4" font-size="29.54">20 %</text>
<text x="1878.4" y="790.6" font-size="29.12">Mouse #6</text>
<rect x="1901.2" y="967.3" width="4.4" height="31.2"/>
<text x="1913.5" y="993.7" font-size="29.54">20 %</text>
<text x="1878.4" y="950.5" font-size="29.12">Mouse #3</text>
<rect x="1853.8" y="1101.2" width="101" height="4"/>
<text x="1879.3" y="1094.6" font-size="29.83">10 s</text>
<text transform="translate(1705 0) rotate(-90)" x="-1052.7" y="0" font-size="29.08">ΔRBC</text>
<text transform="translate(1738 0) rotate(-90)" x="-1081.7" y="0" font-size="29.51">velocity (%)</text>
</svg></body></html>
